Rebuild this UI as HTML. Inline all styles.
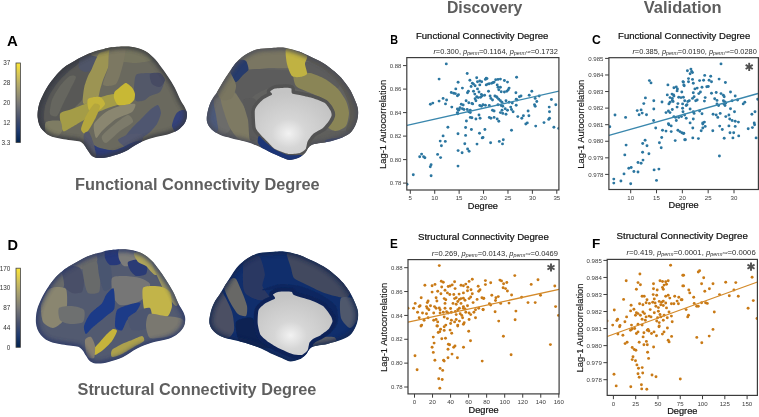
<!DOCTYPE html>
<html><head><meta charset="utf-8"><style>
html,body{margin:0;padding:0;background:#fff;overflow:hidden;}
svg{display:block;will-change:transform;}
</style></head><body><svg width="759" height="417" viewBox="0 0 759 417" font-family='"Liberation Sans", sans-serif'><defs><clipPath id="clipB"><rect x="406.8" y="57.6" width="152.1" height="132.4"/></clipPath><clipPath id="clipC"><rect x="608.9" y="57.7" width="149.5" height="131.8"/></clipPath><clipPath id="clipE"><rect x="408.0" y="259.6" width="151.1" height="134.3"/></clipPath><clipPath id="clipF"><rect x="607.2" y="259.4" width="150.2" height="136.0"/></clipPath><filter id="bl1" x="-10%" y="-10%" width="120%" height="120%"><feGaussianBlur stdDeviation="0.65"/></filter><filter id="bl0" x="-10%" y="-10%" width="120%" height="120%"><feGaussianBlur stdDeviation="0.45"/></filter><filter id="bl2" x="-10%" y="-10%" width="120%" height="120%"><feGaussianBlur stdDeviation="2.2"/></filter><radialGradient id="wg" cx="0.44" cy="0.69" r="0.62"><stop offset="0" stop-color="#f2f2f2"/><stop offset="0.35" stop-color="#d6d6d6"/><stop offset="1" stop-color="#c4c4c4"/></radialGradient><linearGradient id="cv" x1="0" y1="1" x2="0" y2="0"><stop offset="0" stop-color="#00224e"/><stop offset="0.15" stop-color="#1f3a6e"/><stop offset="0.3" stop-color="#46506c"/><stop offset="0.5" stop-color="#7c7b78"/><stop offset="0.7" stop-color="#aca46e"/><stop offset="0.85" stop-color="#d4c55a"/><stop offset="1" stop-color="#fde737"/></linearGradient><clipPath id="cal"><path d="M110.0,47.4 C114.2,46.9 123.2,46.1 128.7,46.5 C134.2,46.9 139.0,48.2 143.1,50.0 C147.2,51.8 150.3,54.6 153.2,57.3 C156.1,59.9 158.0,62.8 160.4,65.9 C162.8,69.0 165.2,72.4 167.6,76.0 C170.0,79.6 172.5,83.5 174.7,87.5 C176.8,91.5 178.8,96.7 180.5,100.0 C182.2,103.3 183.7,104.8 184.8,107.2 C185.9,109.6 187.0,111.8 187.0,114.4 C187.0,117.0 186.4,120.4 184.8,123.0 C183.2,125.6 180.5,128.3 177.6,130.2 C174.7,132.1 171.7,133.2 167.6,134.5 C163.5,135.8 158.0,136.2 153.2,137.7 C148.4,139.1 143.6,140.8 138.8,143.2 C134.0,145.5 129.1,149.6 124.4,151.8 C119.7,154.0 114.5,155.4 110.4,156.4 C106.3,157.4 102.6,158.0 99.6,158.0 C96.6,158.0 94.4,157.5 92.4,156.2 C90.4,154.9 88.8,151.8 87.5,150.0 C86.2,148.2 85.8,146.8 84.6,145.4 C83.3,144.0 81.9,142.4 80.0,141.6 C78.1,140.8 75.8,140.9 73.1,140.5 C70.4,140.1 66.8,139.7 63.6,139.2 C60.4,138.7 56.7,138.1 54.0,137.3 C51.3,136.5 49.2,135.6 47.3,134.4 C45.4,133.2 43.9,131.8 42.5,130.1 C41.1,128.4 39.9,126.5 39.1,124.4 C38.3,122.3 37.8,120.1 37.6,117.7 C37.4,115.3 37.6,112.3 37.9,110.0 C38.2,107.7 38.6,106.0 39.2,104.0 C39.8,102.0 40.4,100.5 41.5,98.1 C42.6,95.7 44.1,92.4 45.8,89.5 C47.5,86.6 49.4,83.7 51.6,80.8 C53.8,77.9 56.3,74.7 58.8,72.2 C61.3,69.7 63.9,67.5 66.5,65.6 C69.1,63.7 71.9,62.3 74.4,60.9 C76.9,59.5 79.2,58.3 81.6,57.1 C84.0,55.9 86.4,54.5 88.8,53.5 C91.2,52.5 93.6,51.7 96.0,51.0 C98.4,50.3 100.9,49.8 103.2,49.2 C105.5,48.6 105.8,47.9 110.0,47.4Z"/></clipPath><clipPath id="cam"><path d="M283.0,47.6 C287.0,48.1 291.7,49.2 296.0,50.6 C300.3,52.0 304.2,53.7 308.7,55.8 C313.2,57.9 318.8,60.4 323.1,63.0 C327.4,65.6 331.2,68.7 334.6,71.6 C338.0,74.5 340.6,77.1 343.2,80.2 C345.8,83.3 348.4,87.0 350.4,90.3 C352.3,93.6 353.6,96.8 354.9,100.0 C356.2,103.2 357.6,106.0 358.0,109.4 C358.4,112.8 358.2,116.7 357.2,120.3 C356.2,123.9 354.3,128.3 351.8,131.2 C349.3,134.0 346.6,135.6 342.4,137.4 C338.2,139.2 332.0,140.8 326.8,142.1 C321.6,143.4 314.8,143.4 311.2,145.2 C307.6,147.0 307.1,150.9 305.0,153.0 C302.9,155.1 301.3,156.5 298.7,157.7 C296.1,158.9 292.1,160.0 289.4,160.0 C286.7,160.0 285.6,158.9 282.7,157.7 C279.8,156.5 275.7,154.8 271.8,153.0 C267.9,151.2 263.5,148.6 259.3,146.8 C255.1,145.0 251.5,143.5 246.8,142.1 C242.1,140.7 235.6,139.4 231.2,138.2 C226.8,137.0 223.6,136.5 220.3,135.1 C217.1,133.7 213.9,131.8 211.7,129.6 C209.5,127.4 207.7,124.9 207.0,121.8 C206.3,118.7 207.0,114.5 207.8,110.9 C208.6,107.3 210.1,103.2 211.7,100.0 C213.3,96.8 215.3,94.8 217.2,91.7 C219.1,88.7 221.1,84.8 223.0,81.7 C224.9,78.6 226.8,75.9 228.7,73.0 C230.6,70.1 232.6,66.8 234.5,64.4 C236.4,62.0 238.0,60.5 240.2,58.7 C242.3,56.9 244.5,55.2 247.4,53.6 C250.3,52.0 253.4,50.2 257.5,49.3 C261.6,48.3 267.6,48.2 271.8,47.9 C276.1,47.6 279.0,47.1 283.0,47.6Z"/></clipPath><clipPath id="cdl"><path d="M108.3,250.4 C112.5,249.9 121.5,249.0 127.0,249.4 C132.5,249.9 137.3,251.2 141.4,253.0 C145.5,254.9 148.6,257.8 151.5,260.5 C154.4,263.2 156.3,266.1 158.7,269.3 C161.1,272.5 163.5,276.0 165.9,279.7 C168.3,283.3 170.8,287.3 173.0,291.4 C175.2,295.5 177.1,300.9 178.8,304.2 C180.5,307.6 182.0,309.1 183.1,311.6 C184.2,314.1 185.3,316.3 185.3,319.0 C185.3,321.7 184.7,325.1 183.1,327.8 C181.5,330.5 178.8,333.2 175.9,335.2 C173.0,337.1 170.0,338.3 165.9,339.6 C161.8,340.8 156.3,341.3 151.5,342.8 C146.7,344.3 141.9,346.1 137.1,348.5 C132.3,350.9 127.4,355.0 122.7,357.3 C118.0,359.5 112.8,360.9 108.7,362.0 C104.6,363.0 100.9,363.7 97.9,363.6 C94.9,363.6 92.7,363.1 90.7,361.8 C88.7,360.4 87.1,357.3 85.8,355.4 C84.5,353.6 84.1,352.2 82.9,350.7 C81.6,349.3 80.2,347.7 78.3,346.8 C76.4,346.0 74.1,346.1 71.4,345.7 C68.7,345.3 65.1,344.9 61.9,344.4 C58.7,343.8 55.0,343.2 52.3,342.4 C49.6,341.6 47.5,340.7 45.6,339.5 C43.7,338.2 42.2,336.8 40.8,335.1 C39.4,333.3 38.2,331.3 37.4,329.2 C36.6,327.1 36.1,324.8 35.9,322.4 C35.7,319.9 35.9,316.8 36.2,314.5 C36.5,312.1 36.9,310.4 37.5,308.3 C38.1,306.3 38.7,304.8 39.8,302.3 C40.9,299.8 42.4,296.4 44.1,293.5 C45.8,290.5 47.7,287.5 49.9,284.6 C52.1,281.6 54.6,278.4 57.1,275.8 C59.6,273.2 62.2,270.9 64.8,269.0 C67.4,267.1 70.2,265.6 72.7,264.2 C75.2,262.7 77.5,261.6 79.9,260.3 C82.3,259.0 84.7,257.7 87.1,256.6 C89.5,255.6 91.9,254.8 94.3,254.1 C96.7,253.3 99.2,252.8 101.5,252.2 C103.8,251.6 104.0,250.8 108.3,250.4Z"/></clipPath><clipPath id="cdm"><path d="M284.3,251.4 C288.2,251.8 292.8,253.0 297.1,254.3 C301.3,255.7 305.1,257.4 309.5,259.4 C314.0,261.4 319.5,263.9 323.7,266.5 C327.9,269.0 331.7,272.1 335.0,274.9 C338.3,277.7 340.9,280.2 343.5,283.3 C346.0,286.4 348.6,290.0 350.5,293.2 C352.4,296.4 353.7,299.6 355.0,302.7 C356.2,305.8 357.6,308.6 358.0,311.9 C358.4,315.2 358.2,319.0 357.2,322.6 C356.2,326.1 354.3,330.4 351.9,333.2 C349.5,336.0 346.8,337.5 342.7,339.3 C338.6,341.1 332.4,342.6 327.3,343.9 C322.2,345.2 315.6,345.2 312.0,346.9 C308.4,348.7 307.9,352.5 305.9,354.6 C303.9,356.6 302.3,358.0 299.7,359.2 C297.2,360.3 293.2,361.4 290.6,361.4 C287.9,361.4 286.9,360.3 284.0,359.2 C281.1,358.0 277.1,356.3 273.3,354.6 C269.4,352.8 265.1,350.3 261.0,348.5 C256.9,346.7 253.3,345.3 248.7,343.9 C244.1,342.5 237.7,341.2 233.4,340.1 C229.0,338.9 225.8,338.5 222.6,337.0 C219.4,335.6 216.4,333.8 214.2,331.7 C212.0,329.5 210.2,327.1 209.6,324.0 C208.9,321.0 209.6,316.9 210.4,313.4 C211.1,309.8 212.6,305.8 214.2,302.7 C215.7,299.6 217.7,297.5 219.6,294.6 C221.4,291.6 223.4,287.8 225.3,284.8 C227.2,281.7 229.0,279.1 230.9,276.3 C232.8,273.4 234.7,270.2 236.6,267.8 C238.5,265.5 240.1,264.0 242.2,262.3 C244.3,260.5 246.4,258.8 249.3,257.3 C252.1,255.7 255.2,254.0 259.2,253.0 C263.2,252.1 269.1,252.0 273.3,251.7 C277.4,251.4 280.3,250.9 284.3,251.4Z"/></clipPath></defs><rect x="16.0" y="63.0" width="4.4" height="79.5" fill="url(#cv)" stroke="#444" stroke-width="0.8"/><text x="10.3" y="65.3" font-size="6.4" fill="#333" text-anchor="end">37</text><text x="10.3" y="85.2" font-size="6.4" fill="#333" text-anchor="end">28</text><text x="10.3" y="105.0" font-size="6.4" fill="#333" text-anchor="end">20</text><text x="10.3" y="124.9" font-size="6.4" fill="#333" text-anchor="end">12</text><text x="10.3" y="144.8" font-size="6.4" fill="#333" text-anchor="end">3.3</text><rect x="16.0" y="268.2" width="4.4" height="79.1" fill="url(#cv)" stroke="#444" stroke-width="0.8"/><text x="10.3" y="270.5" font-size="6.4" fill="#333" text-anchor="end">170</text><text x="10.3" y="290.3" font-size="6.4" fill="#333" text-anchor="end">130</text><text x="10.3" y="310.1" font-size="6.4" fill="#333" text-anchor="end">87</text><text x="10.3" y="329.8" font-size="6.4" fill="#333" text-anchor="end">44</text><text x="10.3" y="349.6" font-size="6.4" fill="#333" text-anchor="end">0</text><g clip-path="url(#cal)"><path d="M110.0,47.4 C114.2,46.9 123.2,46.1 128.7,46.5 C134.2,46.9 139.0,48.2 143.1,50.0 C147.2,51.8 150.3,54.6 153.2,57.3 C156.1,59.9 158.0,62.8 160.4,65.9 C162.8,69.0 165.2,72.4 167.6,76.0 C170.0,79.6 172.5,83.5 174.7,87.5 C176.8,91.5 178.8,96.7 180.5,100.0 C182.2,103.3 183.7,104.8 184.8,107.2 C185.9,109.6 187.0,111.8 187.0,114.4 C187.0,117.0 186.4,120.4 184.8,123.0 C183.2,125.6 180.5,128.3 177.6,130.2 C174.7,132.1 171.7,133.2 167.6,134.5 C163.5,135.8 158.0,136.2 153.2,137.7 C148.4,139.1 143.6,140.8 138.8,143.2 C134.0,145.5 129.1,149.6 124.4,151.8 C119.7,154.0 114.5,155.4 110.4,156.4 C106.3,157.4 102.6,158.0 99.6,158.0 C96.6,158.0 94.4,157.5 92.4,156.2 C90.4,154.9 88.8,151.8 87.5,150.0 C86.2,148.2 85.8,146.8 84.6,145.4 C83.3,144.0 81.9,142.4 80.0,141.6 C78.1,140.8 75.8,140.9 73.1,140.5 C70.4,140.1 66.8,139.7 63.6,139.2 C60.4,138.7 56.7,138.1 54.0,137.3 C51.3,136.5 49.2,135.6 47.3,134.4 C45.4,133.2 43.9,131.8 42.5,130.1 C41.1,128.4 39.9,126.5 39.1,124.4 C38.3,122.3 37.8,120.1 37.6,117.7 C37.4,115.3 37.6,112.3 37.9,110.0 C38.2,107.7 38.6,106.0 39.2,104.0 C39.8,102.0 40.4,100.5 41.5,98.1 C42.6,95.7 44.1,92.4 45.8,89.5 C47.5,86.6 49.4,83.7 51.6,80.8 C53.8,77.9 56.3,74.7 58.8,72.2 C61.3,69.7 63.9,67.5 66.5,65.6 C69.1,63.7 71.9,62.3 74.4,60.9 C76.9,59.5 79.2,58.3 81.6,57.1 C84.0,55.9 86.4,54.5 88.8,53.5 C91.2,52.5 93.6,51.7 96.0,51.0 C98.4,50.3 100.9,49.8 103.2,49.2 C105.5,48.6 105.8,47.9 110.0,47.4Z" fill="#6a695e"/><g filter="url(#bl1)"><path d="M40.0,95.0 C41.5,90.7 47.4,81.2 50.0,78.0 C52.6,74.8 58.7,70.3 62.0,68.0 C65.3,65.7 74.5,59.8 78.0,58.0 C81.5,56.2 89.9,52.8 92.0,53.0 C94.1,53.2 96.2,57.4 96.0,60.0 C95.8,62.6 91.2,71.5 90.0,75.0 C88.8,78.5 86.9,87.1 86.0,90.0 C85.1,92.9 83.6,97.7 82.0,100.0 C80.4,102.3 74.3,107.9 72.0,110.0 C69.7,112.1 63.9,115.2 62.0,118.0 C60.1,120.8 58.1,132.6 56.0,134.0 C53.9,135.4 46.2,132.2 44.0,130.0 C41.8,127.8 37.5,119.1 37.0,115.0 C36.5,110.9 38.5,99.3 40.0,95.0Z" fill="#585956"/><path d="M37.0,112.0 C36.8,108.7 37.2,102.8 38.0,100.0 C38.8,97.2 42.4,90.6 44.0,88.0 C45.6,85.4 49.9,80.3 52.0,78.0 C54.1,75.7 59.7,70.0 62.0,68.0 C64.3,66.0 69.9,62.2 72.0,61.0 C74.1,59.8 79.3,57.6 80.0,58.0 C80.7,58.4 79.4,62.4 78.0,64.0 C76.6,65.6 70.3,69.9 68.0,72.0 C65.7,74.1 60.1,79.4 58.0,82.0 C55.9,84.6 51.5,91.2 50.0,94.0 C48.5,96.8 45.7,103.0 45.0,106.0 C44.3,109.0 43.6,117.0 44.0,120.0 C44.4,123.0 48.5,131.1 48.0,132.0 C47.5,132.9 41.3,130.3 40.0,128.0 C38.7,125.7 37.2,115.3 37.0,112.0Z" fill="#46484f"/><path d="M52.0,100.0 C53.2,96.7 57.9,88.8 60.0,86.0 C62.1,83.2 68.1,77.0 70.0,76.0 C71.9,75.0 76.0,75.4 76.0,77.0 C76.0,78.6 71.5,86.8 70.0,90.0 C68.5,93.2 64.5,101.0 63.0,104.0 C61.5,107.0 58.5,114.8 57.0,116.0 C55.5,117.2 50.6,115.9 50.0,114.0 C49.4,112.1 50.8,103.3 52.0,100.0Z" fill="#66665e"/><path d="M92.0,52.0 C93.8,50.1 105.6,47.7 110.0,47.0 C114.4,46.3 125.6,45.4 130.0,46.0 C134.4,46.6 145.4,50.4 148.0,52.0 C150.6,53.6 153.5,58.7 152.0,60.0 C150.5,61.3 139.3,62.9 135.0,63.0 C130.7,63.1 119.7,61.0 115.0,61.0 C110.3,61.0 97.7,64.0 95.0,63.0 C92.3,62.0 90.2,53.9 92.0,52.0Z" fill="#76745f"/><path d="M80.0,58.0 C81.3,56.5 87.9,55.6 90.0,55.5 C92.1,55.4 97.2,56.5 98.0,57.5 C98.8,58.5 97.6,62.5 97.0,64.0 C96.4,65.5 94.4,69.1 93.0,70.0 C91.6,70.9 86.6,72.2 85.0,72.0 C83.4,71.8 79.6,69.6 79.0,68.0 C78.4,66.4 78.7,59.5 80.0,58.0Z" fill="#4f5468"/><path d="M98.4,54.3 C99.8,52.3 102.5,52.0 104.0,51.5 C105.5,51.0 110.1,49.2 111.0,50.0 C111.9,50.8 112.3,55.9 112.0,58.0 C111.7,60.1 109.0,65.4 108.0,68.0 C107.0,70.6 103.9,77.4 103.0,80.0 C102.1,82.6 100.6,87.9 100.0,90.0 C99.4,92.1 98.9,96.6 98.0,98.0 C97.1,99.4 93.6,101.3 92.0,102.0 C90.4,102.7 85.1,104.3 84.0,104.0 C82.9,103.7 82.8,101.5 82.8,99.5 C82.8,97.5 83.7,89.7 84.3,87.0 C84.9,84.3 87.1,78.2 88.0,76.0 C88.9,73.8 90.8,70.9 92.0,68.4 C93.2,65.9 97.0,56.3 98.4,54.3Z" fill="#9c9452"/><path d="M110.0,49.0 C112.0,46.5 123.4,45.7 125.0,47.0 C126.6,48.3 124.6,56.7 124.0,60.0 C123.4,63.3 120.9,72.2 120.0,75.0 C119.1,77.8 117.4,82.7 116.0,84.0 C114.6,85.3 109.5,86.0 108.0,86.0 C106.5,86.0 103.0,86.1 103.0,84.0 C103.0,81.9 107.2,72.1 108.0,68.0 C108.8,63.9 108.0,51.5 110.0,49.0Z" fill="#7c7862"/><path d="M136.0,75.0 C137.6,73.0 145.4,73.1 148.0,73.0 C150.6,72.9 156.1,73.0 158.0,74.0 C159.9,75.0 163.8,79.9 164.0,82.0 C164.2,84.1 161.6,90.4 160.0,92.0 C158.4,93.6 151.8,95.1 150.0,96.0 C148.2,96.9 146.6,99.4 145.0,100.0 C143.4,100.6 137.3,102.2 136.0,101.0 C134.7,99.8 134.0,93.0 134.0,90.0 C134.0,87.0 134.4,77.0 136.0,75.0Z" fill="#535869"/><path d="M150.0,74.0 C150.9,72.7 158.2,72.3 160.0,73.0 C161.8,73.7 165.0,78.4 165.0,80.0 C165.0,81.6 161.5,86.5 160.0,87.0 C158.5,87.5 153.2,85.5 152.0,84.0 C150.8,82.5 149.1,75.3 150.0,74.0Z" fill="#464c64"/><path d="M60.0,114.0 C61.0,111.4 69.1,110.2 72.0,109.0 C74.9,107.8 82.2,105.2 85.0,104.0 C87.8,102.8 93.3,100.0 96.0,99.0 C98.7,98.0 105.4,95.6 108.0,95.0 C110.6,94.4 116.5,93.1 118.0,94.0 C119.5,94.9 122.2,101.4 121.0,103.0 C119.8,104.6 110.9,106.8 108.0,108.0 C105.1,109.2 98.8,111.6 96.0,113.0 C93.2,114.4 86.8,118.4 84.0,120.0 C81.2,121.6 74.5,125.7 72.0,127.0 C69.5,128.3 64.4,132.5 63.0,131.0 C61.6,129.5 59.0,116.6 60.0,114.0Z" fill="#a49c46"/><path d="M125.6,83.0 C127.0,82.8 130.1,85.8 131.0,86.5 C131.9,87.2 132.5,88.1 133.0,89.0 C133.5,89.9 134.9,92.7 135.0,94.0 C135.1,95.3 134.8,98.7 134.0,100.0 C133.2,101.3 129.9,104.4 128.0,105.0 C126.1,105.6 119.6,105.8 118.0,105.0 C116.4,104.2 114.4,99.5 114.0,98.0 C113.6,96.5 113.9,93.2 114.5,92.0 C115.1,90.8 117.7,89.0 119.0,88.0 C120.3,87.0 124.2,83.2 125.6,83.0Z" fill="#c8b834"/><path d="M88.0,99.0 C89.3,97.5 98.0,96.4 100.0,97.0 C102.0,97.6 105.2,102.4 105.0,104.0 C104.8,105.6 99.9,110.3 98.0,111.0 C96.1,111.7 90.2,111.4 89.0,110.0 C87.8,108.6 86.7,100.5 88.0,99.0Z" fill="#c4b43a"/><path d="M94.0,104.0 C95.6,102.8 99.8,104.5 100.0,106.0 C100.2,107.5 97.2,114.4 96.0,117.0 C94.8,119.6 91.3,126.0 90.0,128.0 C88.7,130.0 86.0,133.9 85.0,134.0 C84.0,134.1 80.9,131.1 81.0,129.0 C81.1,126.9 84.5,118.9 86.0,116.0 C87.5,113.1 92.4,105.2 94.0,104.0Z" fill="#b4a63c"/><path d="M46.0,122.0 C47.6,120.6 58.1,120.0 60.0,121.0 C61.9,122.0 62.5,129.1 62.0,131.0 C61.5,132.9 57.9,136.8 56.0,137.0 C54.1,137.2 47.2,134.8 46.0,133.0 C44.8,131.2 44.4,123.4 46.0,122.0Z" fill="#7e7c64"/><path d="M94.0,124.0 C95.2,121.0 103.0,114.1 106.0,112.0 C109.0,109.9 116.6,106.9 120.0,106.0 C123.4,105.1 133.6,103.3 135.0,104.0 C136.4,104.7 134.2,110.2 132.0,112.0 C129.8,113.8 119.5,116.8 116.0,119.0 C112.5,121.2 104.3,128.8 102.0,131.0 C99.7,133.2 96.9,138.8 96.0,138.0 C95.1,137.2 92.8,127.0 94.0,124.0Z" fill="#8a8670"/><path d="M102.0,136.0 C103.2,133.7 113.0,125.5 116.0,123.0 C119.0,120.5 126.0,115.1 128.0,115.0 C130.0,114.9 133.9,120.1 133.0,122.0 C132.1,123.9 123.2,128.6 120.0,131.0 C116.8,133.4 108.1,142.4 106.0,143.0 C103.9,143.6 100.8,138.3 102.0,136.0Z" fill="#7c7a6a"/><path d="M124.0,139.0 C124.0,137.4 129.0,131.3 131.0,129.0 C133.0,126.7 138.7,121.3 141.0,119.0 C143.3,116.7 149.0,110.6 151.0,109.0 C153.0,107.4 156.8,104.5 158.0,105.0 C159.2,105.5 161.1,110.8 161.0,113.0 C160.9,115.2 158.4,121.7 157.0,124.0 C155.6,126.3 151.0,131.2 149.0,133.0 C147.0,134.8 142.1,137.8 140.0,139.0 C137.9,140.2 132.9,143.0 131.0,143.0 C129.1,143.0 124.0,140.6 124.0,139.0Z" fill="#505770"/><path d="M118.0,140.0 C118.2,138.4 127.2,134.7 130.0,134.0 C132.8,133.3 140.6,133.2 142.0,134.0 C143.4,134.8 143.6,139.4 142.0,141.0 C140.4,142.6 130.8,148.1 128.0,148.0 C125.2,147.9 117.8,141.6 118.0,140.0Z" fill="#525870"/><path d="M89.0,143.0 C90.6,142.8 97.0,147.2 100.0,148.0 C103.0,148.8 111.0,150.7 115.0,150.0 C119.0,149.3 130.8,143.1 134.0,142.0 C137.2,140.9 142.5,139.8 142.0,141.0 C141.5,142.2 133.7,150.0 130.0,152.0 C126.3,154.0 114.1,157.1 110.0,158.0 C105.9,158.9 97.8,160.9 95.0,160.0 C92.2,159.1 86.7,152.0 86.0,150.0 C85.3,148.0 87.4,143.2 89.0,143.0Z" fill="#2e3e78"/><path d="M176.0,114.0 C177.2,112.1 180.6,110.2 182.0,110.0 C183.4,109.8 187.3,109.9 188.0,112.0 C188.7,114.1 189.2,125.4 188.0,128.0 C186.8,130.6 179.9,134.2 178.0,134.0 C176.1,133.8 172.2,128.3 172.0,126.0 C171.8,123.7 174.8,115.9 176.0,114.0Z" fill="#34427a"/><path d="M84.0,134.0 C84.6,132.4 87.8,130.7 89.0,132.0 C90.2,133.3 93.2,142.0 94.0,145.0 C94.8,148.0 96.7,156.5 96.0,158.0 C95.3,159.5 89.4,159.4 88.0,158.0 C86.6,156.6 84.5,148.8 84.0,146.0 C83.5,143.2 83.4,135.6 84.0,134.0Z" fill="#54586a"/></g><path d="M110.0,47.4 C114.2,46.9 123.2,46.1 128.7,46.5 C134.2,46.9 139.0,48.2 143.1,50.0 C147.2,51.8 150.3,54.6 153.2,57.3 C156.1,59.9 158.0,62.8 160.4,65.9 C162.8,69.0 165.2,72.4 167.6,76.0 C170.0,79.6 172.5,83.5 174.7,87.5 C176.8,91.5 178.8,96.7 180.5,100.0 C182.2,103.3 183.7,104.8 184.8,107.2 C185.9,109.6 187.0,111.8 187.0,114.4 C187.0,117.0 186.4,120.4 184.8,123.0 C183.2,125.6 180.5,128.3 177.6,130.2 C174.7,132.1 171.7,133.2 167.6,134.5 C163.5,135.8 158.0,136.2 153.2,137.7 C148.4,139.1 143.6,140.8 138.8,143.2 C134.0,145.5 129.1,149.6 124.4,151.8 C119.7,154.0 114.5,155.4 110.4,156.4 C106.3,157.4 102.6,158.0 99.6,158.0 C96.6,158.0 94.4,157.5 92.4,156.2 C90.4,154.9 88.8,151.8 87.5,150.0 C86.2,148.2 85.8,146.8 84.6,145.4 C83.3,144.0 81.9,142.4 80.0,141.6 C78.1,140.8 75.8,140.9 73.1,140.5 C70.4,140.1 66.8,139.7 63.6,139.2 C60.4,138.7 56.7,138.1 54.0,137.3 C51.3,136.5 49.2,135.6 47.3,134.4 C45.4,133.2 43.9,131.8 42.5,130.1 C41.1,128.4 39.9,126.5 39.1,124.4 C38.3,122.3 37.8,120.1 37.6,117.7 C37.4,115.3 37.6,112.3 37.9,110.0 C38.2,107.7 38.6,106.0 39.2,104.0 C39.8,102.0 40.4,100.5 41.5,98.1 C42.6,95.7 44.1,92.4 45.8,89.5 C47.5,86.6 49.4,83.7 51.6,80.8 C53.8,77.9 56.3,74.7 58.8,72.2 C61.3,69.7 63.9,67.5 66.5,65.6 C69.1,63.7 71.9,62.3 74.4,60.9 C76.9,59.5 79.2,58.3 81.6,57.1 C84.0,55.9 86.4,54.5 88.8,53.5 C91.2,52.5 93.6,51.7 96.0,51.0 C98.4,50.3 100.9,49.8 103.2,49.2 C105.5,48.6 105.8,47.9 110.0,47.4Z" fill="none" stroke="#35373f" stroke-width="5" filter="url(#bl2)" opacity="0.9"/></g><g clip-path="url(#cam)"><path d="M283.0,47.6 C287.0,48.1 291.7,49.2 296.0,50.6 C300.3,52.0 304.2,53.7 308.7,55.8 C313.2,57.9 318.8,60.4 323.1,63.0 C327.4,65.6 331.2,68.7 334.6,71.6 C338.0,74.5 340.6,77.1 343.2,80.2 C345.8,83.3 348.4,87.0 350.4,90.3 C352.3,93.6 353.6,96.8 354.9,100.0 C356.2,103.2 357.6,106.0 358.0,109.4 C358.4,112.8 358.2,116.7 357.2,120.3 C356.2,123.9 354.3,128.3 351.8,131.2 C349.3,134.0 346.6,135.6 342.4,137.4 C338.2,139.2 332.0,140.8 326.8,142.1 C321.6,143.4 314.8,143.4 311.2,145.2 C307.6,147.0 307.1,150.9 305.0,153.0 C302.9,155.1 301.3,156.5 298.7,157.7 C296.1,158.9 292.1,160.0 289.4,160.0 C286.7,160.0 285.6,158.9 282.7,157.7 C279.8,156.5 275.7,154.8 271.8,153.0 C267.9,151.2 263.5,148.6 259.3,146.8 C255.1,145.0 251.5,143.5 246.8,142.1 C242.1,140.7 235.6,139.4 231.2,138.2 C226.8,137.0 223.6,136.5 220.3,135.1 C217.1,133.7 213.9,131.8 211.7,129.6 C209.5,127.4 207.7,124.9 207.0,121.8 C206.3,118.7 207.0,114.5 207.8,110.9 C208.6,107.3 210.1,103.2 211.7,100.0 C213.3,96.8 215.3,94.8 217.2,91.7 C219.1,88.7 221.1,84.8 223.0,81.7 C224.9,78.6 226.8,75.9 228.7,73.0 C230.6,70.1 232.6,66.8 234.5,64.4 C236.4,62.0 238.0,60.5 240.2,58.7 C242.3,56.9 244.5,55.2 247.4,53.6 C250.3,52.0 253.4,50.2 257.5,49.3 C261.6,48.3 267.6,48.2 271.8,47.9 C276.1,47.6 279.0,47.1 283.0,47.6Z" fill="#626260"/><g filter="url(#bl1)"><path d="M236.0,56.0 C237.2,53.8 246.0,50.0 250.0,49.0 C254.0,48.0 265.8,47.2 270.0,47.0 C274.2,46.8 283.7,45.2 286.0,47.0 C288.3,48.8 289.8,59.5 290.0,62.0 C290.2,64.5 290.3,67.3 288.0,68.0 C285.7,68.7 274.4,67.8 270.0,68.0 C265.6,68.2 253.5,70.0 250.0,70.0 C246.5,70.0 241.6,69.6 240.0,68.0 C238.4,66.4 234.8,58.2 236.0,56.0Z" fill="#7a7662"/><path d="M236.0,72.0 C238.9,69.5 253.7,69.2 260.0,69.0 C266.3,68.8 284.6,70.8 290.0,70.0 C295.4,69.2 301.3,62.5 306.0,62.0 C310.7,61.5 326.0,63.3 330.0,66.0 C334.0,68.7 340.6,81.6 340.0,85.0 C339.4,88.4 329.7,94.4 325.0,95.0 C320.3,95.6 305.8,91.0 300.0,90.0 C294.2,89.0 280.2,85.4 275.0,86.0 C269.8,86.6 258.5,92.8 255.0,95.0 C251.5,97.2 247.3,105.6 245.0,105.0 C242.7,104.4 236.1,93.8 235.0,90.0 C233.9,86.2 233.1,74.5 236.0,72.0Z" fill="#5c5c5c"/><path d="M300.0,50.0 C302.0,49.8 311.5,54.2 315.0,56.0 C318.5,57.8 326.9,62.7 330.0,65.0 C333.1,67.3 339.6,73.2 342.0,76.0 C344.4,78.8 349.2,85.8 351.0,89.0 C352.8,92.2 356.1,100.0 357.0,103.0 C357.9,106.0 359.1,112.2 359.0,115.0 C358.9,117.8 357.1,124.8 356.0,127.0 C354.9,129.2 351.2,133.7 350.0,134.0 C348.8,134.3 346.0,131.9 346.0,130.0 C346.0,128.1 349.6,121.0 350.0,118.0 C350.4,115.0 349.8,107.3 349.0,104.0 C348.2,100.7 344.8,93.0 343.0,90.0 C341.2,87.0 336.4,80.6 334.0,78.0 C331.6,75.4 325.0,70.0 322.0,68.0 C319.0,66.0 310.8,62.2 308.0,61.0 C305.2,59.8 298.9,59.3 298.0,58.0 C297.1,56.7 298.0,50.2 300.0,50.0Z" fill="#5c5a52"/><path d="M294.0,74.0 C295.6,72.5 306.4,72.4 310.0,73.0 C313.6,73.6 321.7,77.1 325.0,79.0 C328.3,80.9 335.6,86.4 338.0,89.0 C340.4,91.6 344.7,98.2 346.0,101.0 C347.3,103.8 349.0,110.1 349.0,113.0 C349.0,115.9 347.5,123.9 346.0,126.0 C344.5,128.1 338.1,130.9 336.0,131.0 C333.9,131.1 328.2,128.8 328.0,127.0 C327.8,125.2 333.5,118.5 334.0,116.0 C334.5,113.5 333.4,108.1 332.0,106.0 C330.6,103.9 324.8,99.6 322.0,98.0 C319.2,96.4 311.0,93.4 308.0,92.0 C305.0,90.6 297.6,88.1 296.0,86.0 C294.4,83.9 292.4,75.5 294.0,74.0Z" fill="#8a8556"/><path d="M240.0,60.0 C241.5,59.4 245.0,59.9 246.0,61.0 C247.0,62.1 248.8,67.9 248.5,69.5 C248.2,71.1 244.5,73.5 243.0,75.0 C241.5,76.5 237.5,82.1 236.0,82.0 C234.5,81.9 230.8,75.9 230.5,74.0 C230.2,72.1 231.9,67.6 233.0,66.0 C234.1,64.4 238.5,60.6 240.0,60.0Z" fill="#253a6c"/><path d="M286.0,49.0 C287.1,47.5 293.6,50.2 296.0,51.0 C298.4,51.8 305.9,54.5 307.0,56.0 C308.1,57.5 305.0,61.9 305.0,64.0 C305.0,66.1 307.6,72.5 307.0,74.0 C306.4,75.5 301.8,76.8 300.0,77.0 C298.2,77.2 293.5,77.5 292.0,76.0 C290.5,74.5 287.7,67.2 287.0,64.0 C286.3,60.9 284.9,50.5 286.0,49.0Z" fill="#c0b242"/><path d="M311.0,128.0 C313.3,126.2 325.4,130.5 330.0,131.0 C334.6,131.5 348.2,130.7 350.0,132.0 C351.8,133.3 347.9,140.5 345.0,142.0 C342.1,143.5 329.1,144.5 325.0,145.0 C320.9,145.5 311.6,148.0 310.0,146.0 C308.4,144.0 308.7,129.8 311.0,128.0Z" fill="#5e5e5c"/><path d="M206.0,104.0 C206.9,101.7 212.4,99.3 214.0,100.0 C215.6,100.7 219.5,106.5 220.0,110.0 C220.5,113.5 218.9,127.2 218.0,130.0 C217.1,132.8 213.4,135.2 212.0,134.0 C210.6,132.8 206.7,123.5 206.0,120.0 C205.3,116.5 205.1,106.3 206.0,104.0Z" fill="#4e5a7a"/><path d="M214.0,100.0 C215.2,97.8 224.1,94.8 226.0,96.0 C227.9,97.2 229.5,106.0 230.0,110.0 C230.5,114.0 231.2,127.2 230.0,130.0 C228.8,132.8 221.6,135.8 220.0,134.0 C218.4,132.2 216.7,119.0 216.0,115.0 C215.3,111.0 212.8,102.2 214.0,100.0Z" fill="#6c6c6a"/><path d="M221.0,97.0 C222.2,94.7 231.1,90.5 234.0,92.0 C236.9,93.5 243.4,105.6 246.0,110.0 C248.6,114.4 254.8,126.5 256.0,130.0 C257.2,133.5 257.9,138.8 256.0,140.0 C254.1,141.2 243.0,141.4 240.0,140.0 C237.0,138.6 231.9,131.3 230.0,128.0 C228.1,124.7 225.1,115.6 224.0,112.0 C222.9,108.4 219.8,99.3 221.0,97.0Z" fill="#7e7a64"/><path d="M243.0,100.0 C243.9,97.7 254.5,97.1 256.0,100.0 C257.5,102.9 255.8,120.5 256.0,125.0 C256.2,129.6 258.7,137.2 258.0,139.0 C257.3,140.8 251.2,142.2 250.0,140.0 C248.8,137.8 248.8,124.7 248.0,120.0 C247.2,115.3 242.1,102.3 243.0,100.0Z" fill="#5a5a5a"/><path d="M217.0,74.0 C218.4,71.7 225.8,68.7 228.0,70.0 C230.2,71.3 235.5,81.7 236.0,85.0 C236.5,88.3 233.6,96.2 232.0,98.0 C230.4,99.8 223.9,100.9 222.0,100.0 C220.1,99.1 216.6,93.0 216.0,90.0 C215.4,87.0 215.6,76.3 217.0,74.0Z" fill="#7a7660"/><path d="M326.0,140.0 C328.1,138.9 343.7,136.7 346.0,137.0 C348.3,137.3 348.1,141.9 346.0,143.0 C343.9,144.1 330.3,146.3 328.0,146.0 C325.7,145.7 323.9,141.1 326.0,140.0Z" fill="#34447a"/></g><path d="M283.0,47.6 C287.0,48.1 291.7,49.2 296.0,50.6 C300.3,52.0 304.2,53.7 308.7,55.8 C313.2,57.9 318.8,60.4 323.1,63.0 C327.4,65.6 331.2,68.7 334.6,71.6 C338.0,74.5 340.6,77.1 343.2,80.2 C345.8,83.3 348.4,87.0 350.4,90.3 C352.3,93.6 353.6,96.8 354.9,100.0 C356.2,103.2 357.6,106.0 358.0,109.4 C358.4,112.8 358.2,116.7 357.2,120.3 C356.2,123.9 354.3,128.3 351.8,131.2 C349.3,134.0 346.6,135.6 342.4,137.4 C338.2,139.2 332.0,140.8 326.8,142.1 C321.6,143.4 314.8,143.4 311.2,145.2 C307.6,147.0 307.1,150.9 305.0,153.0 C302.9,155.1 301.3,156.5 298.7,157.7 C296.1,158.9 292.1,160.0 289.4,160.0 C286.7,160.0 285.6,158.9 282.7,157.7 C279.8,156.5 275.7,154.8 271.8,153.0 C267.9,151.2 263.5,148.6 259.3,146.8 C255.1,145.0 251.5,143.5 246.8,142.1 C242.1,140.7 235.6,139.4 231.2,138.2 C226.8,137.0 223.6,136.5 220.3,135.1 C217.1,133.7 213.9,131.8 211.7,129.6 C209.5,127.4 207.7,124.9 207.0,121.8 C206.3,118.7 207.0,114.5 207.8,110.9 C208.6,107.3 210.1,103.2 211.7,100.0 C213.3,96.8 215.3,94.8 217.2,91.7 C219.1,88.7 221.1,84.8 223.0,81.7 C224.9,78.6 226.8,75.9 228.7,73.0 C230.6,70.1 232.6,66.8 234.5,64.4 C236.4,62.0 238.0,60.5 240.2,58.7 C242.3,56.9 244.5,55.2 247.4,53.6 C250.3,52.0 253.4,50.2 257.5,49.3 C261.6,48.3 267.6,48.2 271.8,47.9 C276.1,47.6 279.0,47.1 283.0,47.6Z" fill="none" stroke="#484c58" stroke-width="5" filter="url(#bl2)" opacity="0.9"/><path d="M257.7,105.0 C258.6,103.8 262.0,100.3 263.4,99.2 C264.8,98.1 271.3,95.2 272.0,94.4 C272.7,93.6 269.9,92.1 270.2,91.5 C270.5,90.9 273.4,89.0 275.0,88.6 C276.6,88.2 284.9,87.7 286.5,87.7 C288.1,87.7 290.7,88.0 291.3,88.6 C291.9,89.2 291.1,92.7 292.2,93.4 C293.2,94.1 299.7,94.9 301.8,95.4 C303.9,95.9 311.0,97.4 313.3,98.2 C315.6,99.0 323.2,101.8 324.9,103.0 C326.6,104.2 329.9,109.5 330.6,110.7 C331.3,112.0 331.8,114.4 331.6,115.5 C331.4,116.6 329.6,120.0 328.7,121.3 C327.8,122.5 324.5,126.8 323.0,128.0 C321.5,129.2 314.8,132.4 313.3,133.7 C311.8,135.0 308.4,139.9 307.6,141.4 C306.8,142.9 306.5,147.8 305.7,149.0 C304.9,150.2 301.7,152.5 300.0,153.0 C298.3,153.5 290.9,154.3 288.4,153.9 C285.9,153.5 277.1,150.2 275.0,149.0 C272.9,147.8 268.7,142.7 267.3,141.4 C265.9,140.1 262.6,137.0 261.5,135.7 C260.4,134.4 256.5,130.5 255.8,128.0 C255.1,125.5 254.6,113.0 254.8,110.7 C255.0,108.4 256.8,106.2 257.7,105.0Z" fill="none" stroke="#535353" stroke-width="7.0" stroke-linejoin="round" filter="url(#bl0)"/><g filter="url(#bl0)"><path d="M259.0,136.0 C259.9,135.9 264.1,140.9 266.0,142.5 C267.9,144.1 272.4,148.0 275.0,149.5 C277.6,151.0 285.0,154.4 288.0,155.0 C291.0,155.6 299.1,154.7 301.0,155.0 C302.9,155.3 305.3,157.4 304.0,158.0 C302.7,158.6 292.9,160.1 290.0,160.0 C287.1,159.9 281.8,158.4 279.0,157.5 C276.2,156.6 268.4,153.7 266.0,152.0 C263.6,150.3 258.8,144.9 258.0,143.0 C257.2,141.1 258.1,136.1 259.0,136.0Z" fill="#1e3676"/></g><path d="M257.7,105.0 C258.6,103.8 262.0,100.3 263.4,99.2 C264.8,98.1 271.3,95.2 272.0,94.4 C272.7,93.6 269.9,92.1 270.2,91.5 C270.5,90.9 273.4,89.0 275.0,88.6 C276.6,88.2 284.9,87.7 286.5,87.7 C288.1,87.7 290.7,88.0 291.3,88.6 C291.9,89.2 291.1,92.7 292.2,93.4 C293.2,94.1 299.7,94.9 301.8,95.4 C303.9,95.9 311.0,97.4 313.3,98.2 C315.6,99.0 323.2,101.8 324.9,103.0 C326.6,104.2 329.9,109.5 330.6,110.7 C331.3,112.0 331.8,114.4 331.6,115.5 C331.4,116.6 329.6,120.0 328.7,121.3 C327.8,122.5 324.5,126.8 323.0,128.0 C321.5,129.2 314.8,132.4 313.3,133.7 C311.8,135.0 308.4,139.9 307.6,141.4 C306.8,142.9 306.5,147.8 305.7,149.0 C304.9,150.2 301.7,152.5 300.0,153.0 C298.3,153.5 290.9,154.3 288.4,153.9 C285.9,153.5 277.1,150.2 275.0,149.0 C272.9,147.8 268.7,142.7 267.3,141.4 C265.9,140.1 262.6,137.0 261.5,135.7 C260.4,134.4 256.5,130.5 255.8,128.0 C255.1,125.5 254.6,113.0 254.8,110.7 C255.0,108.4 256.8,106.2 257.7,105.0Z" fill="url(#wg)" filter="url(#bl0)"/></g><g clip-path="url(#cdl)"><path d="M108.3,250.4 C112.5,249.9 121.5,249.0 127.0,249.4 C132.5,249.9 137.3,251.2 141.4,253.0 C145.5,254.9 148.6,257.8 151.5,260.5 C154.4,263.2 156.3,266.1 158.7,269.3 C161.1,272.5 163.5,276.0 165.9,279.7 C168.3,283.3 170.8,287.3 173.0,291.4 C175.2,295.5 177.1,300.9 178.8,304.2 C180.5,307.6 182.0,309.1 183.1,311.6 C184.2,314.1 185.3,316.3 185.3,319.0 C185.3,321.7 184.7,325.1 183.1,327.8 C181.5,330.5 178.8,333.2 175.9,335.2 C173.0,337.1 170.0,338.3 165.9,339.6 C161.8,340.8 156.3,341.3 151.5,342.8 C146.7,344.3 141.9,346.1 137.1,348.5 C132.3,350.9 127.4,355.0 122.7,357.3 C118.0,359.5 112.8,360.9 108.7,362.0 C104.6,363.0 100.9,363.7 97.9,363.6 C94.9,363.6 92.7,363.1 90.7,361.8 C88.7,360.4 87.1,357.3 85.8,355.4 C84.5,353.6 84.1,352.2 82.9,350.7 C81.6,349.3 80.2,347.7 78.3,346.8 C76.4,346.0 74.1,346.1 71.4,345.7 C68.7,345.3 65.1,344.9 61.9,344.4 C58.7,343.8 55.0,343.2 52.3,342.4 C49.6,341.6 47.5,340.7 45.6,339.5 C43.7,338.2 42.2,336.8 40.8,335.1 C39.4,333.3 38.2,331.3 37.4,329.2 C36.6,327.1 36.1,324.8 35.9,322.4 C35.7,319.9 35.9,316.8 36.2,314.5 C36.5,312.1 36.9,310.4 37.5,308.3 C38.1,306.3 38.7,304.8 39.8,302.3 C40.9,299.8 42.4,296.4 44.1,293.5 C45.8,290.5 47.7,287.5 49.9,284.6 C52.1,281.6 54.6,278.4 57.1,275.8 C59.6,273.2 62.2,270.9 64.8,269.0 C67.4,267.1 70.2,265.6 72.7,264.2 C75.2,262.7 77.5,261.6 79.9,260.3 C82.3,259.0 84.7,257.7 87.1,256.6 C89.5,255.6 91.9,254.8 94.3,254.1 C96.7,253.3 99.2,252.8 101.5,252.2 C103.8,251.6 104.0,250.8 108.3,250.4Z" fill="#525a70"/><g filter="url(#bl1)"><path d="M70.0,257.0 C71.6,255.5 79.1,254.6 82.0,254.0 C84.9,253.4 93.2,251.2 95.0,252.0 C96.8,252.8 97.8,259.2 97.0,261.0 C96.2,262.8 90.2,265.9 88.0,267.0 C85.8,268.1 80.3,270.0 78.0,270.0 C75.7,270.0 68.9,268.5 68.0,267.0 C67.1,265.5 68.4,258.5 70.0,257.0Z" fill="#6c6c6c"/><path d="M63.0,271.0 C64.0,268.8 70.0,266.4 72.0,266.0 C74.0,265.6 78.6,266.4 80.0,268.0 C81.4,269.6 83.8,277.2 84.0,280.0 C84.2,282.8 83.4,290.5 82.0,292.0 C80.6,293.5 74.2,293.8 72.0,293.0 C69.8,292.2 64.0,287.6 63.0,285.0 C62.0,282.4 62.0,273.2 63.0,271.0Z" fill="#4a5068"/><path d="M83.0,264.0 C84.4,261.8 94.0,259.6 96.0,261.0 C98.0,262.4 99.7,272.4 100.0,276.0 C100.3,279.6 100.4,290.0 99.0,292.0 C97.6,294.0 89.8,294.4 88.0,293.0 C86.2,291.6 84.6,283.4 84.0,280.0 C83.4,276.6 81.6,266.2 83.0,264.0Z" fill="#686a6a"/><path d="M98.0,257.0 C98.9,254.7 105.5,253.7 107.0,255.0 C108.5,256.3 110.4,264.4 111.0,268.0 C111.6,271.6 112.8,283.3 112.0,286.0 C111.2,288.7 105.5,292.3 104.0,291.0 C102.5,289.7 99.7,279.0 99.0,275.0 C98.3,271.0 97.1,259.3 98.0,257.0Z" fill="#4a5470"/><path d="M51.0,275.0 C52.4,273.5 59.5,270.7 61.0,272.0 C62.5,273.3 64.6,284.0 64.0,286.0 C63.4,288.0 57.8,289.1 56.0,289.0 C54.2,288.9 49.6,286.6 49.0,285.0 C48.4,283.4 49.6,276.5 51.0,275.0Z" fill="#686a6a"/><path d="M48.0,290.0 C49.8,287.9 53.9,287.1 56.0,287.0 C58.1,286.9 64.7,286.9 66.0,289.0 C67.3,291.1 67.3,301.3 67.0,305.0 C66.7,308.7 64.6,318.3 63.0,321.0 C61.4,323.7 55.3,327.9 53.0,328.0 C50.7,328.1 44.4,324.7 43.0,322.0 C41.6,319.3 40.4,308.7 41.0,305.0 C41.6,301.3 46.2,292.1 48.0,290.0Z" fill="#8a8670"/><path d="M59.0,308.0 C60.4,306.4 69.1,305.8 72.0,306.0 C74.9,306.2 82.7,308.1 84.0,310.0 C85.3,311.9 84.6,320.4 83.0,322.0 C81.4,323.6 72.7,324.2 70.0,324.0 C67.3,323.8 61.3,321.9 60.0,320.0 C58.7,318.1 57.6,309.6 59.0,308.0Z" fill="#6e7070"/><path d="M106.0,250.0 C107.5,248.9 116.1,247.8 118.0,248.5 C119.9,249.2 121.8,254.2 122.0,256.0 C122.2,257.8 121.4,262.9 120.0,264.0 C118.6,265.1 111.8,265.7 110.0,265.0 C108.2,264.3 105.5,259.8 105.0,258.0 C104.5,256.2 104.5,251.1 106.0,250.0Z" fill="#27397a"/><path d="M119.0,250.0 C120.5,248.8 129.9,248.3 132.0,249.0 C134.1,249.7 136.7,254.1 137.0,256.0 C137.3,257.9 136.5,263.8 135.0,265.0 C133.5,266.2 125.9,266.7 124.0,266.0 C122.1,265.3 119.6,260.9 119.0,259.0 C118.4,257.1 117.5,251.2 119.0,250.0Z" fill="#7c7c7a"/><path d="M128.0,262.0 C129.2,260.7 137.8,258.8 140.0,259.0 C142.2,259.2 146.3,262.2 147.0,264.0 C147.7,265.8 147.3,272.6 146.0,274.0 C144.7,275.4 137.9,276.5 136.0,276.0 C134.1,275.5 130.9,271.6 130.0,270.0 C129.1,268.4 126.8,263.3 128.0,262.0Z" fill="#2c3a74"/><path d="M134.0,253.0 C134.9,251.8 143.2,251.2 146.0,252.0 C148.8,252.8 155.9,257.9 158.0,260.0 C160.1,262.1 164.3,268.2 164.0,270.0 C163.7,271.8 157.1,275.5 155.0,275.0 C152.9,274.5 148.0,267.5 146.0,266.0 C144.0,264.5 139.4,263.5 138.0,262.0 C136.6,260.5 133.1,254.2 134.0,253.0Z" fill="#aea45a"/><path d="M152.0,262.0 C152.5,260.6 159.7,263.9 162.0,266.0 C164.3,268.1 169.9,276.3 172.0,280.0 C174.1,283.7 179.5,295.0 180.0,298.0 C180.5,301.0 177.6,306.5 176.0,306.0 C174.4,305.5 168.1,297.3 166.0,294.0 C163.9,290.7 159.6,281.7 158.0,278.0 C156.4,274.3 151.5,263.4 152.0,262.0Z" fill="#9c9660"/><path d="M112.0,278.0 C113.4,275.7 121.7,276.0 125.0,276.0 C128.3,276.0 137.1,277.1 140.0,278.0 C142.9,278.9 149.3,281.9 150.0,284.0 C150.7,286.1 147.6,293.8 146.0,296.0 C144.4,298.2 139.0,301.9 136.0,303.0 C133.0,304.1 122.7,305.8 120.0,305.0 C117.3,304.2 113.9,299.1 113.0,296.0 C112.1,292.9 110.6,280.3 112.0,278.0Z" fill="#767676"/><path d="M143.0,288.0 C144.1,286.1 149.8,286.1 152.0,286.0 C154.2,285.9 159.9,286.3 162.0,287.0 C164.1,287.7 168.8,289.8 170.0,292.0 C171.2,294.2 172.2,303.2 172.0,306.0 C171.8,308.8 169.6,314.6 168.0,316.0 C166.4,317.4 160.6,318.2 158.0,318.0 C155.4,317.8 147.8,315.9 146.0,314.0 C144.2,312.1 143.3,305.0 143.0,302.0 C142.7,299.0 141.9,289.9 143.0,288.0Z" fill="#c2b44a"/><path d="M113.6,288.5 C114.6,290.1 115.4,305.3 114.4,308.6 C113.4,311.9 107.8,314.7 105.2,317.0 C102.6,319.3 94.2,326.0 92.0,328.0 C89.8,330.0 86.9,334.2 86.0,334.0 C85.1,333.8 83.5,328.3 84.0,326.0 C84.5,323.7 87.9,316.6 90.0,314.0 C92.1,311.4 99.9,305.8 101.8,303.6 C103.7,301.4 104.6,296.8 106.0,295.0 C107.4,293.2 112.6,286.9 113.6,288.5Z" fill="#1c3a88"/><path d="M116.9,310.3 C118.4,307.7 125.3,305.9 128.0,305.0 C130.7,304.1 139.5,301.9 140.4,302.7 C141.3,303.5 137.6,309.9 136.0,312.0 C134.4,314.1 128.6,318.2 127.0,320.3 C125.4,322.4 123.4,329.6 122.0,330.4 C120.6,331.2 115.8,329.3 115.2,327.0 C114.6,324.7 115.4,312.9 116.9,310.3Z" fill="#1e3a88"/><path d="M128.0,318.0 C128.9,315.7 137.4,311.2 140.0,310.0 C142.6,308.8 148.6,306.8 150.0,308.0 C151.4,309.2 152.5,317.6 152.0,320.0 C151.5,322.4 148.3,327.8 146.0,329.0 C143.7,330.2 134.1,331.3 132.0,330.0 C129.9,328.7 127.1,320.3 128.0,318.0Z" fill="#4e5670"/><path d="M149.0,314.0 C151.2,312.8 161.4,315.5 165.0,316.0 C168.6,316.5 177.6,317.1 180.0,318.0 C182.4,318.9 186.0,322.2 186.0,324.0 C186.0,325.8 182.3,331.5 180.0,333.0 C177.7,334.5 169.5,336.4 166.0,337.0 C162.5,337.6 152.3,339.3 150.0,338.0 C147.7,336.7 146.1,328.8 146.0,326.0 C145.9,323.2 146.8,315.2 149.0,314.0Z" fill="#7a7870"/><path d="M92.0,351.0 C92.5,349.6 97.4,344.9 99.0,343.0 C100.6,341.1 104.4,336.6 106.0,335.0 C107.6,333.4 111.7,329.5 113.0,329.0 C114.3,328.5 117.1,329.6 117.0,331.0 C116.9,332.4 113.6,338.8 112.0,341.0 C110.4,343.2 105.0,348.4 103.0,350.0 C101.0,351.6 96.3,354.9 95.0,355.0 C93.7,355.1 91.5,352.4 92.0,351.0Z" fill="#c6b43a"/><path d="M112.0,350.0 C113.2,348.5 119.7,345.2 122.0,344.0 C124.3,342.8 129.7,340.9 132.0,340.0 C134.3,339.1 140.6,335.9 142.0,336.0 C143.4,336.1 144.9,339.7 144.0,341.0 C143.1,342.3 136.6,345.5 134.0,347.0 C131.4,348.5 124.6,352.8 122.0,354.0 C119.4,355.2 113.2,357.5 112.0,357.0 C110.8,356.5 110.8,351.5 112.0,350.0Z" fill="#aca04e"/><path d="M85.0,340.0 C85.5,337.8 89.8,336.3 91.0,337.0 C92.2,337.7 94.7,343.6 95.0,346.0 C95.3,348.4 94.9,356.8 94.0,358.0 C93.1,359.2 88.0,358.1 87.0,356.0 C86.0,353.9 84.5,342.2 85.0,340.0Z" fill="#888070"/></g><path d="M108.3,250.4 C112.5,249.9 121.5,249.0 127.0,249.4 C132.5,249.9 137.3,251.2 141.4,253.0 C145.5,254.9 148.6,257.8 151.5,260.5 C154.4,263.2 156.3,266.1 158.7,269.3 C161.1,272.5 163.5,276.0 165.9,279.7 C168.3,283.3 170.8,287.3 173.0,291.4 C175.2,295.5 177.1,300.9 178.8,304.2 C180.5,307.6 182.0,309.1 183.1,311.6 C184.2,314.1 185.3,316.3 185.3,319.0 C185.3,321.7 184.7,325.1 183.1,327.8 C181.5,330.5 178.8,333.2 175.9,335.2 C173.0,337.1 170.0,338.3 165.9,339.6 C161.8,340.8 156.3,341.3 151.5,342.8 C146.7,344.3 141.9,346.1 137.1,348.5 C132.3,350.9 127.4,355.0 122.7,357.3 C118.0,359.5 112.8,360.9 108.7,362.0 C104.6,363.0 100.9,363.7 97.9,363.6 C94.9,363.6 92.7,363.1 90.7,361.8 C88.7,360.4 87.1,357.3 85.8,355.4 C84.5,353.6 84.1,352.2 82.9,350.7 C81.6,349.3 80.2,347.7 78.3,346.8 C76.4,346.0 74.1,346.1 71.4,345.7 C68.7,345.3 65.1,344.9 61.9,344.4 C58.7,343.8 55.0,343.2 52.3,342.4 C49.6,341.6 47.5,340.7 45.6,339.5 C43.7,338.2 42.2,336.8 40.8,335.1 C39.4,333.3 38.2,331.3 37.4,329.2 C36.6,327.1 36.1,324.8 35.9,322.4 C35.7,319.9 35.9,316.8 36.2,314.5 C36.5,312.1 36.9,310.4 37.5,308.3 C38.1,306.3 38.7,304.8 39.8,302.3 C40.9,299.8 42.4,296.4 44.1,293.5 C45.8,290.5 47.7,287.5 49.9,284.6 C52.1,281.6 54.6,278.4 57.1,275.8 C59.6,273.2 62.2,270.9 64.8,269.0 C67.4,267.1 70.2,265.6 72.7,264.2 C75.2,262.7 77.5,261.6 79.9,260.3 C82.3,259.0 84.7,257.7 87.1,256.6 C89.5,255.6 91.9,254.8 94.3,254.1 C96.7,253.3 99.2,252.8 101.5,252.2 C103.8,251.6 104.0,250.8 108.3,250.4Z" fill="none" stroke="#2c3868" stroke-width="5" filter="url(#bl2)" opacity="0.9"/></g><g clip-path="url(#cdm)"><path d="M284.3,251.4 C288.2,251.8 292.8,253.0 297.1,254.3 C301.3,255.7 305.1,257.4 309.5,259.4 C314.0,261.4 319.5,263.9 323.7,266.5 C327.9,269.0 331.7,272.1 335.0,274.9 C338.3,277.7 340.9,280.2 343.5,283.3 C346.0,286.4 348.6,290.0 350.5,293.2 C352.4,296.4 353.7,299.6 355.0,302.7 C356.2,305.8 357.6,308.6 358.0,311.9 C358.4,315.2 358.2,319.0 357.2,322.6 C356.2,326.1 354.3,330.4 351.9,333.2 C349.5,336.0 346.8,337.5 342.7,339.3 C338.6,341.1 332.4,342.6 327.3,343.9 C322.2,345.2 315.6,345.2 312.0,346.9 C308.4,348.7 307.9,352.5 305.9,354.6 C303.9,356.6 302.3,358.0 299.7,359.2 C297.2,360.3 293.2,361.4 290.6,361.4 C287.9,361.4 286.9,360.3 284.0,359.2 C281.1,358.0 277.1,356.3 273.3,354.6 C269.4,352.8 265.1,350.3 261.0,348.5 C256.9,346.7 253.3,345.3 248.7,343.9 C244.1,342.5 237.7,341.2 233.4,340.1 C229.0,338.9 225.8,338.5 222.6,337.0 C219.4,335.6 216.4,333.8 214.2,331.7 C212.0,329.5 210.2,327.1 209.6,324.0 C208.9,321.0 209.6,316.9 210.4,313.4 C211.1,309.8 212.6,305.8 214.2,302.7 C215.7,299.6 217.7,297.5 219.6,294.6 C221.4,291.6 223.4,287.8 225.3,284.8 C227.2,281.7 229.0,279.1 230.9,276.3 C232.8,273.4 234.7,270.2 236.6,267.8 C238.5,265.5 240.1,264.0 242.2,262.3 C244.3,260.5 246.4,258.8 249.3,257.3 C252.1,255.7 255.2,254.0 259.2,253.0 C263.2,252.1 269.1,252.0 273.3,251.7 C277.4,251.4 280.3,250.9 284.3,251.4Z" fill="#102e6c"/><g filter="url(#bl1)"><path d="M244.4,257.2 C245.5,255.4 250.2,255.0 252.0,255.0 C253.8,255.0 258.5,255.0 260.0,257.2 C261.5,259.4 264.5,270.6 264.8,274.0 C265.1,277.4 261.8,283.2 262.4,286.0 C263.0,288.8 270.1,296.4 269.6,298.0 C269.1,299.6 260.8,300.5 258.0,300.0 C255.2,299.5 247.7,295.6 246.0,294.0 C244.3,292.4 243.5,288.8 243.2,286.0 C242.8,283.2 242.9,273.4 243.0,270.0 C243.1,266.6 243.3,258.9 244.4,257.2Z" fill="#2c3862"/><path d="M287.0,253.0 C288.1,251.5 296.7,254.3 300.0,255.0 C303.3,255.7 311.5,257.7 315.0,259.0 C318.5,260.3 326.7,263.8 330.0,266.0 C333.3,268.2 340.7,275.0 343.0,278.0 C345.3,281.0 349.6,289.7 350.0,292.0 C350.4,294.3 347.8,297.5 346.0,298.0 C344.2,298.5 337.7,296.6 335.0,296.0 C332.3,295.4 326.5,293.9 323.0,292.5 C319.5,291.1 308.4,285.7 305.0,284.0 C301.6,282.3 295.6,279.9 294.0,278.0 C292.4,276.1 291.8,270.9 291.0,268.0 C290.2,265.1 285.9,254.5 287.0,253.0Z" fill="#424a5e"/><path d="M224.0,287.0 C224.1,284.3 229.6,279.9 231.0,279.0 C232.4,278.1 234.7,277.5 236.0,279.0 C237.3,280.5 240.7,288.9 242.0,292.0 C243.3,295.1 246.5,303.2 247.0,306.0 C247.5,308.8 247.1,315.1 246.0,316.0 C244.9,316.9 239.9,315.6 238.0,314.0 C236.1,312.4 231.6,305.1 230.0,302.0 C228.4,298.9 223.9,289.7 224.0,287.0Z" fill="#686866"/><path d="M208.0,305.0 C208.7,301.7 212.4,295.5 214.0,294.0 C215.6,292.5 219.9,289.9 222.0,292.0 C224.1,294.1 230.6,307.6 232.0,312.0 C233.4,316.4 234.5,327.0 234.0,330.0 C233.5,333.0 230.3,337.4 228.0,338.0 C225.7,338.6 216.3,336.9 214.0,335.0 C211.7,333.1 208.7,325.5 208.0,322.0 C207.3,318.5 207.3,308.3 208.0,305.0Z" fill="#4c5064"/><path d="M236.0,322.0 C237.4,319.2 249.0,316.4 252.0,318.0 C255.0,319.6 259.2,332.6 262.0,336.0 C264.8,339.4 276.0,345.6 276.0,347.0 C276.0,348.4 266.2,348.6 262.0,348.0 C257.8,347.4 243.0,345.0 240.0,342.0 C237.0,339.0 234.6,324.8 236.0,322.0Z" fill="#0a2252"/><path d="M262.0,290.0 C262.0,289.3 275.6,284.5 280.0,284.0 C284.4,283.5 295.3,284.8 300.0,286.0 C304.7,287.2 315.8,291.7 320.0,294.0 C324.2,296.3 333.9,302.7 336.0,306.0 C338.1,309.3 338.5,319.2 338.0,322.0 C337.5,324.8 334.1,331.2 332.0,330.0 C329.9,328.8 323.7,316.0 320.0,312.0 C316.3,308.0 304.7,298.6 300.0,296.0 C295.3,293.4 284.4,290.7 280.0,290.0 C275.6,289.3 262.0,290.7 262.0,290.0Z" fill="#0c2860"/><path d="M341.0,298.0 C342.8,295.9 354.0,297.7 356.0,300.0 C358.0,302.3 358.7,314.7 358.0,318.0 C357.3,321.3 352.0,328.0 350.0,328.0 C348.0,328.0 342.1,321.5 341.0,318.0 C339.9,314.5 339.2,300.1 341.0,298.0Z" fill="#50586c"/><path d="M311.0,338.0 C313.6,336.8 331.2,336.2 334.0,337.0 C336.8,337.8 337.6,343.8 335.0,345.0 C332.4,346.2 314.8,347.8 312.0,347.0 C309.2,346.2 308.4,339.2 311.0,338.0Z" fill="#5e6068"/></g><path d="M284.3,251.4 C288.2,251.8 292.8,253.0 297.1,254.3 C301.3,255.7 305.1,257.4 309.5,259.4 C314.0,261.4 319.5,263.9 323.7,266.5 C327.9,269.0 331.7,272.1 335.0,274.9 C338.3,277.7 340.9,280.2 343.5,283.3 C346.0,286.4 348.6,290.0 350.5,293.2 C352.4,296.4 353.7,299.6 355.0,302.7 C356.2,305.8 357.6,308.6 358.0,311.9 C358.4,315.2 358.2,319.0 357.2,322.6 C356.2,326.1 354.3,330.4 351.9,333.2 C349.5,336.0 346.8,337.5 342.7,339.3 C338.6,341.1 332.4,342.6 327.3,343.9 C322.2,345.2 315.6,345.2 312.0,346.9 C308.4,348.7 307.9,352.5 305.9,354.6 C303.9,356.6 302.3,358.0 299.7,359.2 C297.2,360.3 293.2,361.4 290.6,361.4 C287.9,361.4 286.9,360.3 284.0,359.2 C281.1,358.0 277.1,356.3 273.3,354.6 C269.4,352.8 265.1,350.3 261.0,348.5 C256.9,346.7 253.3,345.3 248.7,343.9 C244.1,342.5 237.7,341.2 233.4,340.1 C229.0,338.9 225.8,338.5 222.6,337.0 C219.4,335.6 216.4,333.8 214.2,331.7 C212.0,329.5 210.2,327.1 209.6,324.0 C208.9,321.0 209.6,316.9 210.4,313.4 C211.1,309.8 212.6,305.8 214.2,302.7 C215.7,299.6 217.7,297.5 219.6,294.6 C221.4,291.6 223.4,287.8 225.3,284.8 C227.2,281.7 229.0,279.1 230.9,276.3 C232.8,273.4 234.7,270.2 236.6,267.8 C238.5,265.5 240.1,264.0 242.2,262.3 C244.3,260.5 246.4,258.8 249.3,257.3 C252.1,255.7 255.2,254.0 259.2,253.0 C263.2,252.1 269.1,252.0 273.3,251.7 C277.4,251.4 280.3,250.9 284.3,251.4Z" fill="none" stroke="#162650" stroke-width="5" filter="url(#bl2)" opacity="0.9"/><path d="M258.6,310.0 C259.4,308.0 263.8,304.4 265.4,303.2 C267.0,302.0 274.2,299.3 275.0,298.4 C275.8,297.5 272.6,295.3 273.0,294.6 C273.4,293.9 277.0,292.0 278.8,291.7 C280.6,291.4 289.9,291.4 291.3,291.7 C292.7,292.0 292.5,294.1 293.2,294.6 C293.9,295.1 296.2,295.9 298.0,296.5 C299.8,297.1 308.9,299.4 311.4,300.4 C313.9,301.3 321.1,304.5 323.0,306.0 C324.9,307.5 329.7,314.1 330.6,315.7 C331.6,317.2 332.7,320.2 332.5,321.5 C332.3,322.8 329.8,327.8 328.7,329.1 C327.6,330.4 322.5,333.9 321.0,334.9 C319.5,335.9 314.4,337.9 313.3,338.7 C312.2,339.5 310.1,341.4 309.5,342.6 C308.9,343.8 308.4,349.1 307.6,350.3 C306.8,351.5 303.3,354.6 301.8,355.0 C300.3,355.4 294.5,354.7 292.2,354.0 C289.9,353.3 281.1,349.4 278.8,348.3 C276.5,347.2 271.0,343.9 269.2,342.6 C267.4,341.3 261.8,336.9 260.6,335.0 C259.5,333.1 257.9,325.9 257.7,323.4 C257.5,320.9 257.8,312.0 258.6,310.0Z" fill="none" stroke="#0c2458" stroke-width="8.0" stroke-linejoin="round" filter="url(#bl0)"/><path d="M258.6,310.0 C259.4,308.0 263.8,304.4 265.4,303.2 C267.0,302.0 274.2,299.3 275.0,298.4 C275.8,297.5 272.6,295.3 273.0,294.6 C273.4,293.9 277.0,292.0 278.8,291.7 C280.6,291.4 289.9,291.4 291.3,291.7 C292.7,292.0 292.5,294.1 293.2,294.6 C293.9,295.1 296.2,295.9 298.0,296.5 C299.8,297.1 308.9,299.4 311.4,300.4 C313.9,301.3 321.1,304.5 323.0,306.0 C324.9,307.5 329.7,314.1 330.6,315.7 C331.6,317.2 332.7,320.2 332.5,321.5 C332.3,322.8 329.8,327.8 328.7,329.1 C327.6,330.4 322.5,333.9 321.0,334.9 C319.5,335.9 314.4,337.9 313.3,338.7 C312.2,339.5 310.1,341.4 309.5,342.6 C308.9,343.8 308.4,349.1 307.6,350.3 C306.8,351.5 303.3,354.6 301.8,355.0 C300.3,355.4 294.5,354.7 292.2,354.0 C289.9,353.3 281.1,349.4 278.8,348.3 C276.5,347.2 271.0,343.9 269.2,342.6 C267.4,341.3 261.8,336.9 260.6,335.0 C259.5,333.1 257.9,325.9 257.7,323.4 C257.5,320.9 257.8,312.0 258.6,310.0Z" fill="url(#wg)" filter="url(#bl0)"/></g><text x="446.9" y="12.9" font-size="16.00" font-weight="bold" fill="#5d5d5d" text-anchor="start" textLength="75.5" lengthAdjust="spacingAndGlyphs" >Discovery</text><text x="643.8" y="13.2" font-size="16.00" font-weight="bold" fill="#5d5d5d" text-anchor="start" textLength="77.8" lengthAdjust="spacingAndGlyphs" >Validation</text><text x="6.9" y="45.9" font-size="14.80" font-weight="bold" fill="#000" text-anchor="start" textLength="10.8" lengthAdjust="spacingAndGlyphs" >A</text><text x="7.5" y="249.7" font-size="14.80" font-weight="bold" fill="#000" text-anchor="start" textLength="10.5" lengthAdjust="spacingAndGlyphs" >D</text><text x="390.2" y="44.1" font-size="13.40" font-weight="bold" fill="#000" text-anchor="start" textLength="7.8" lengthAdjust="spacingAndGlyphs" >B</text><text x="592.0" y="44.0" font-size="13.40" font-weight="bold" fill="#000" text-anchor="start" textLength="8.8" lengthAdjust="spacingAndGlyphs" >C</text><text x="390.0" y="248.2" font-size="13.40" font-weight="bold" fill="#000" text-anchor="start" textLength="7.8" lengthAdjust="spacingAndGlyphs" >E</text><text x="592.0" y="248.2" font-size="13.40" font-weight="bold" fill="#000" text-anchor="start" textLength="8.3" lengthAdjust="spacingAndGlyphs" >F</text><text x="75.0" y="190.0" font-size="16.30" font-weight="bold" fill="#5f5f5f" text-anchor="start" textLength="244.7" lengthAdjust="spacingAndGlyphs" >Functional Connectivity Degree</text><text x="77.6" y="394.6" font-size="16.30" font-weight="bold" fill="#5f5f5f" text-anchor="start" textLength="238.8" lengthAdjust="spacingAndGlyphs" >Structural Connectivity Degree</text><text x="416.0" y="38.8" font-size="9.50" font-weight="normal" fill="#111" text-anchor="start" textLength="132.4" lengthAdjust="spacingAndGlyphs" stroke="#111" stroke-width="0.22">Functional Connectivity Degree</text><text x="433.4" y="53.9" font-size="6.6" fill="#2c2c2c" textLength="124.5" lengthAdjust="spacingAndGlyphs"><tspan font-style="italic">r</tspan>=0.300, <tspan font-style="italic">p</tspan><tspan font-size="4.6" dy="1.3" font-style="italic">perm</tspan><tspan dy="-1.3">=0.1164, </tspan><tspan font-style="italic">p</tspan><tspan font-size="4.6" dy="1.3" font-style="italic">perm</tspan><tspan font-size="3.6" dy="-2" font-style="italic">sw</tspan><tspan dy="0.7">=0.1732</tspan></text><line x1="403.0" y1="183.10" x2="406.8" y2="183.10" stroke="#3c3c3c" stroke-width="1"/><text x="401.4" y="185.3" font-size="6.10" font-weight="normal" fill="#3c3c3c" text-anchor="end" textLength="11.7" lengthAdjust="spacingAndGlyphs" >0.78</text><line x1="403.0" y1="159.60" x2="406.8" y2="159.60" stroke="#3c3c3c" stroke-width="1"/><text x="401.4" y="161.7" font-size="6.10" font-weight="normal" fill="#3c3c3c" text-anchor="end" textLength="11.7" lengthAdjust="spacingAndGlyphs" >0.80</text><line x1="403.0" y1="136.10" x2="406.8" y2="136.10" stroke="#3c3c3c" stroke-width="1"/><text x="401.4" y="138.3" font-size="6.10" font-weight="normal" fill="#3c3c3c" text-anchor="end" textLength="11.7" lengthAdjust="spacingAndGlyphs" >0.82</text><line x1="403.0" y1="112.60" x2="406.8" y2="112.60" stroke="#3c3c3c" stroke-width="1"/><text x="401.4" y="114.8" font-size="6.10" font-weight="normal" fill="#3c3c3c" text-anchor="end" textLength="11.7" lengthAdjust="spacingAndGlyphs" >0.84</text><line x1="403.0" y1="89.10" x2="406.8" y2="89.10" stroke="#3c3c3c" stroke-width="1"/><text x="401.4" y="91.3" font-size="6.10" font-weight="normal" fill="#3c3c3c" text-anchor="end" textLength="11.7" lengthAdjust="spacingAndGlyphs" >0.86</text><line x1="403.0" y1="65.60" x2="406.8" y2="65.60" stroke="#3c3c3c" stroke-width="1"/><text x="401.4" y="67.8" font-size="6.10" font-weight="normal" fill="#3c3c3c" text-anchor="end" textLength="11.7" lengthAdjust="spacingAndGlyphs" >0.88</text><line x1="410.30" y1="190.0" x2="410.30" y2="193.8" stroke="#3c3c3c" stroke-width="1"/><text x="410.3" y="200.2" font-size="6.10" font-weight="normal" fill="#3c3c3c" text-anchor="middle" >5</text><line x1="434.72" y1="190.0" x2="434.72" y2="193.8" stroke="#3c3c3c" stroke-width="1"/><text x="434.7" y="200.2" font-size="6.10" font-weight="normal" fill="#3c3c3c" text-anchor="middle" >10</text><line x1="459.13" y1="190.0" x2="459.13" y2="193.8" stroke="#3c3c3c" stroke-width="1"/><text x="459.1" y="200.2" font-size="6.10" font-weight="normal" fill="#3c3c3c" text-anchor="middle" >15</text><line x1="483.55" y1="190.0" x2="483.55" y2="193.8" stroke="#3c3c3c" stroke-width="1"/><text x="483.5" y="200.2" font-size="6.10" font-weight="normal" fill="#3c3c3c" text-anchor="middle" >20</text><line x1="507.97" y1="190.0" x2="507.97" y2="193.8" stroke="#3c3c3c" stroke-width="1"/><text x="508.0" y="200.2" font-size="6.10" font-weight="normal" fill="#3c3c3c" text-anchor="middle" >25</text><line x1="532.38" y1="190.0" x2="532.38" y2="193.8" stroke="#3c3c3c" stroke-width="1"/><text x="532.4" y="200.2" font-size="6.10" font-weight="normal" fill="#3c3c3c" text-anchor="middle" >30</text><line x1="556.80" y1="190.0" x2="556.80" y2="193.8" stroke="#3c3c3c" stroke-width="1"/><text x="556.8" y="200.2" font-size="6.10" font-weight="normal" fill="#3c3c3c" text-anchor="middle" >35</text><text x="482.9" y="208.7" font-size="8.60" font-weight="normal" fill="#111" text-anchor="middle" textLength="30.2" lengthAdjust="spacingAndGlyphs" stroke="#111" stroke-width="0.2">Degree</text><text x="0" y="0" font-size="8.6" fill="#1a1a1a" stroke="#1a1a1a" stroke-width="0.15" text-anchor="middle" textLength="89" lengthAdjust="spacingAndGlyphs" transform="translate(386.1,124.4) rotate(-90)">Lag-1 Autocorrelation</text><text x="618.1" y="39.2" font-size="9.50" font-weight="normal" fill="#111" text-anchor="start" textLength="132.1" lengthAdjust="spacingAndGlyphs" stroke="#111" stroke-width="0.22">Functional Connectivity Degree</text><text x="632.4" y="53.9" font-size="6.6" fill="#2c2c2c" textLength="124.5" lengthAdjust="spacingAndGlyphs"><tspan font-style="italic">r</tspan>=0.385, <tspan font-style="italic">p</tspan><tspan font-size="4.6" dy="1.3" font-style="italic">perm</tspan><tspan dy="-1.3">=0.0190, </tspan><tspan font-style="italic">p</tspan><tspan font-size="4.6" dy="1.3" font-style="italic">perm</tspan><tspan font-size="3.6" dy="-2" font-style="italic">sw</tspan><tspan dy="0.7">=0.0280</tspan></text><line x1="605.1" y1="174.40" x2="608.9" y2="174.40" stroke="#3c3c3c" stroke-width="1"/><text x="603.5" y="176.6" font-size="6.10" font-weight="normal" fill="#3c3c3c" text-anchor="end" textLength="15.3" lengthAdjust="spacingAndGlyphs" >0.978</text><line x1="605.1" y1="157.83" x2="608.9" y2="157.83" stroke="#3c3c3c" stroke-width="1"/><text x="603.5" y="160.0" font-size="6.10" font-weight="normal" fill="#3c3c3c" text-anchor="end" textLength="15.3" lengthAdjust="spacingAndGlyphs" >0.979</text><line x1="605.1" y1="141.26" x2="608.9" y2="141.26" stroke="#3c3c3c" stroke-width="1"/><text x="603.5" y="143.4" font-size="6.10" font-weight="normal" fill="#3c3c3c" text-anchor="end" textLength="15.3" lengthAdjust="spacingAndGlyphs" >0.980</text><line x1="605.1" y1="124.69" x2="608.9" y2="124.69" stroke="#3c3c3c" stroke-width="1"/><text x="603.5" y="126.8" font-size="6.10" font-weight="normal" fill="#3c3c3c" text-anchor="end" textLength="15.3" lengthAdjust="spacingAndGlyphs" >0.981</text><line x1="605.1" y1="108.11" x2="608.9" y2="108.11" stroke="#3c3c3c" stroke-width="1"/><text x="603.5" y="110.3" font-size="6.10" font-weight="normal" fill="#3c3c3c" text-anchor="end" textLength="15.3" lengthAdjust="spacingAndGlyphs" >0.982</text><line x1="605.1" y1="91.54" x2="608.9" y2="91.54" stroke="#3c3c3c" stroke-width="1"/><text x="603.5" y="93.7" font-size="6.10" font-weight="normal" fill="#3c3c3c" text-anchor="end" textLength="15.3" lengthAdjust="spacingAndGlyphs" >0.983</text><line x1="605.1" y1="74.97" x2="608.9" y2="74.97" stroke="#3c3c3c" stroke-width="1"/><text x="603.5" y="77.1" font-size="6.10" font-weight="normal" fill="#3c3c3c" text-anchor="end" textLength="15.3" lengthAdjust="spacingAndGlyphs" >0.984</text><line x1="605.1" y1="58.40" x2="608.9" y2="58.40" stroke="#3c3c3c" stroke-width="1"/><text x="603.5" y="60.5" font-size="6.10" font-weight="normal" fill="#3c3c3c" text-anchor="end" textLength="15.3" lengthAdjust="spacingAndGlyphs" >0.985</text><line x1="630.70" y1="189.5" x2="630.70" y2="193.3" stroke="#3c3c3c" stroke-width="1"/><text x="630.7" y="199.7" font-size="6.10" font-weight="normal" fill="#3c3c3c" text-anchor="middle" >10</text><line x1="656.53" y1="189.5" x2="656.53" y2="193.3" stroke="#3c3c3c" stroke-width="1"/><text x="656.5" y="199.7" font-size="6.10" font-weight="normal" fill="#3c3c3c" text-anchor="middle" >15</text><line x1="682.35" y1="189.5" x2="682.35" y2="193.3" stroke="#3c3c3c" stroke-width="1"/><text x="682.4" y="199.7" font-size="6.10" font-weight="normal" fill="#3c3c3c" text-anchor="middle" >20</text><line x1="708.17" y1="189.5" x2="708.17" y2="193.3" stroke="#3c3c3c" stroke-width="1"/><text x="708.2" y="199.7" font-size="6.10" font-weight="normal" fill="#3c3c3c" text-anchor="middle" >25</text><line x1="734.00" y1="189.5" x2="734.00" y2="193.3" stroke="#3c3c3c" stroke-width="1"/><text x="734.0" y="199.7" font-size="6.10" font-weight="normal" fill="#3c3c3c" text-anchor="middle" >30</text><text x="683.6" y="208.2" font-size="8.60" font-weight="normal" fill="#111" text-anchor="middle" textLength="30.2" lengthAdjust="spacingAndGlyphs" stroke="#111" stroke-width="0.2">Degree</text><text x="0" y="0" font-size="8.6" fill="#1a1a1a" stroke="#1a1a1a" stroke-width="0.15" text-anchor="middle" textLength="89" lengthAdjust="spacingAndGlyphs" transform="translate(584.2,124.2) rotate(-90)">Lag-1 Autocorrelation</text><text x="418.0" y="240.4" font-size="9.50" font-weight="normal" fill="#111" text-anchor="start" textLength="130.8" lengthAdjust="spacingAndGlyphs" stroke="#111" stroke-width="0.22">Structural Connectivity Degree</text><text x="431.7" y="255.8" font-size="6.6" fill="#2c2c2c" textLength="126.2" lengthAdjust="spacingAndGlyphs"><tspan font-style="italic">r</tspan>=0.269, <tspan font-style="italic">p</tspan><tspan font-size="4.6" dy="1.3" font-style="italic">perm</tspan><tspan dy="-1.3">=0.0143, </tspan><tspan font-style="italic">p</tspan><tspan font-size="4.6" dy="1.3" font-style="italic">perm</tspan><tspan font-size="3.6" dy="-2" font-style="italic">sw</tspan><tspan dy="0.7">=0.0469</tspan></text><line x1="404.2" y1="387.00" x2="408.0" y2="387.00" stroke="#3c3c3c" stroke-width="1"/><text x="402.6" y="389.1" font-size="6.10" font-weight="normal" fill="#3c3c3c" text-anchor="end" textLength="11.7" lengthAdjust="spacingAndGlyphs" >0.78</text><line x1="404.2" y1="363.14" x2="408.0" y2="363.14" stroke="#3c3c3c" stroke-width="1"/><text x="402.6" y="365.3" font-size="6.10" font-weight="normal" fill="#3c3c3c" text-anchor="end" textLength="11.7" lengthAdjust="spacingAndGlyphs" >0.80</text><line x1="404.2" y1="339.28" x2="408.0" y2="339.28" stroke="#3c3c3c" stroke-width="1"/><text x="402.6" y="341.4" font-size="6.10" font-weight="normal" fill="#3c3c3c" text-anchor="end" textLength="11.7" lengthAdjust="spacingAndGlyphs" >0.82</text><line x1="404.2" y1="315.42" x2="408.0" y2="315.42" stroke="#3c3c3c" stroke-width="1"/><text x="402.6" y="317.6" font-size="6.10" font-weight="normal" fill="#3c3c3c" text-anchor="end" textLength="11.7" lengthAdjust="spacingAndGlyphs" >0.84</text><line x1="404.2" y1="291.56" x2="408.0" y2="291.56" stroke="#3c3c3c" stroke-width="1"/><text x="402.6" y="293.7" font-size="6.10" font-weight="normal" fill="#3c3c3c" text-anchor="end" textLength="11.7" lengthAdjust="spacingAndGlyphs" >0.86</text><line x1="404.2" y1="267.70" x2="408.0" y2="267.70" stroke="#3c3c3c" stroke-width="1"/><text x="402.6" y="269.8" font-size="6.10" font-weight="normal" fill="#3c3c3c" text-anchor="end" textLength="11.7" lengthAdjust="spacingAndGlyphs" >0.88</text><line x1="414.50" y1="393.9" x2="414.50" y2="397.7" stroke="#3c3c3c" stroke-width="1"/><text x="414.5" y="404.1" font-size="6.10" font-weight="normal" fill="#3c3c3c" text-anchor="middle" >0</text><line x1="432.54" y1="393.9" x2="432.54" y2="397.7" stroke="#3c3c3c" stroke-width="1"/><text x="432.5" y="404.1" font-size="6.10" font-weight="normal" fill="#3c3c3c" text-anchor="middle" >20</text><line x1="450.57" y1="393.9" x2="450.57" y2="397.7" stroke="#3c3c3c" stroke-width="1"/><text x="450.6" y="404.1" font-size="6.10" font-weight="normal" fill="#3c3c3c" text-anchor="middle" >40</text><line x1="468.61" y1="393.9" x2="468.61" y2="397.7" stroke="#3c3c3c" stroke-width="1"/><text x="468.6" y="404.1" font-size="6.10" font-weight="normal" fill="#3c3c3c" text-anchor="middle" >60</text><line x1="486.65" y1="393.9" x2="486.65" y2="397.7" stroke="#3c3c3c" stroke-width="1"/><text x="486.6" y="404.1" font-size="6.10" font-weight="normal" fill="#3c3c3c" text-anchor="middle" >80</text><line x1="504.69" y1="393.9" x2="504.69" y2="397.7" stroke="#3c3c3c" stroke-width="1"/><text x="504.7" y="404.1" font-size="6.10" font-weight="normal" fill="#3c3c3c" text-anchor="middle" >100</text><line x1="522.72" y1="393.9" x2="522.72" y2="397.7" stroke="#3c3c3c" stroke-width="1"/><text x="522.7" y="404.1" font-size="6.10" font-weight="normal" fill="#3c3c3c" text-anchor="middle" >120</text><line x1="540.76" y1="393.9" x2="540.76" y2="397.7" stroke="#3c3c3c" stroke-width="1"/><text x="540.8" y="404.1" font-size="6.10" font-weight="normal" fill="#3c3c3c" text-anchor="middle" >140</text><line x1="558.80" y1="393.9" x2="558.80" y2="397.7" stroke="#3c3c3c" stroke-width="1"/><text x="558.8" y="404.1" font-size="6.10" font-weight="normal" fill="#3c3c3c" text-anchor="middle" >160</text><text x="483.6" y="412.6" font-size="8.60" font-weight="normal" fill="#111" text-anchor="middle" textLength="30.2" lengthAdjust="spacingAndGlyphs" stroke="#111" stroke-width="0.2">Degree</text><text x="0" y="0" font-size="8.6" fill="#1a1a1a" stroke="#1a1a1a" stroke-width="0.15" text-anchor="middle" textLength="89" lengthAdjust="spacingAndGlyphs" transform="translate(387.3,327.4) rotate(-90)">Lag-1 Autocorrelation</text><text x="616.5" y="239.2" font-size="9.50" font-weight="normal" fill="#111" text-anchor="start" textLength="131.3" lengthAdjust="spacingAndGlyphs" stroke="#111" stroke-width="0.22">Structural Connectivity Degree</text><text x="626.4" y="254.9" font-size="6.6" fill="#2c2c2c" textLength="129.3" lengthAdjust="spacingAndGlyphs"><tspan font-style="italic">r</tspan>=0.419, <tspan font-style="italic">p</tspan><tspan font-size="4.6" dy="1.3" font-style="italic">perm</tspan><tspan dy="-1.3">=0.0001, </tspan><tspan font-style="italic">p</tspan><tspan font-size="4.6" dy="1.3" font-style="italic">perm</tspan><tspan font-size="3.6" dy="-2" font-style="italic">sw</tspan><tspan dy="0.7">=0.0006</tspan></text><line x1="603.4" y1="379.70" x2="607.2" y2="379.70" stroke="#3c3c3c" stroke-width="1"/><text x="601.8" y="381.8" font-size="6.10" font-weight="normal" fill="#3c3c3c" text-anchor="end" textLength="15.3" lengthAdjust="spacingAndGlyphs" >0.978</text><line x1="603.4" y1="362.66" x2="607.2" y2="362.66" stroke="#3c3c3c" stroke-width="1"/><text x="601.8" y="364.8" font-size="6.10" font-weight="normal" fill="#3c3c3c" text-anchor="end" textLength="15.3" lengthAdjust="spacingAndGlyphs" >0.979</text><line x1="603.4" y1="345.61" x2="607.2" y2="345.61" stroke="#3c3c3c" stroke-width="1"/><text x="601.8" y="347.8" font-size="6.10" font-weight="normal" fill="#3c3c3c" text-anchor="end" textLength="15.3" lengthAdjust="spacingAndGlyphs" >0.980</text><line x1="603.4" y1="328.57" x2="607.2" y2="328.57" stroke="#3c3c3c" stroke-width="1"/><text x="601.8" y="330.7" font-size="6.10" font-weight="normal" fill="#3c3c3c" text-anchor="end" textLength="15.3" lengthAdjust="spacingAndGlyphs" >0.981</text><line x1="603.4" y1="311.53" x2="607.2" y2="311.53" stroke="#3c3c3c" stroke-width="1"/><text x="601.8" y="313.7" font-size="6.10" font-weight="normal" fill="#3c3c3c" text-anchor="end" textLength="15.3" lengthAdjust="spacingAndGlyphs" >0.982</text><line x1="603.4" y1="294.49" x2="607.2" y2="294.49" stroke="#3c3c3c" stroke-width="1"/><text x="601.8" y="296.6" font-size="6.10" font-weight="normal" fill="#3c3c3c" text-anchor="end" textLength="15.3" lengthAdjust="spacingAndGlyphs" >0.983</text><line x1="603.4" y1="277.44" x2="607.2" y2="277.44" stroke="#3c3c3c" stroke-width="1"/><text x="601.8" y="279.6" font-size="6.10" font-weight="normal" fill="#3c3c3c" text-anchor="end" textLength="15.3" lengthAdjust="spacingAndGlyphs" >0.984</text><line x1="603.4" y1="260.40" x2="607.2" y2="260.40" stroke="#3c3c3c" stroke-width="1"/><text x="601.8" y="262.5" font-size="6.10" font-weight="normal" fill="#3c3c3c" text-anchor="end" textLength="15.3" lengthAdjust="spacingAndGlyphs" >0.985</text><line x1="613.40" y1="395.4" x2="613.40" y2="399.2" stroke="#3c3c3c" stroke-width="1"/><text x="613.4" y="405.6" font-size="6.10" font-weight="normal" fill="#3c3c3c" text-anchor="middle" >0</text><line x1="635.68" y1="395.4" x2="635.68" y2="399.2" stroke="#3c3c3c" stroke-width="1"/><text x="635.7" y="405.6" font-size="6.10" font-weight="normal" fill="#3c3c3c" text-anchor="middle" >25</text><line x1="657.97" y1="395.4" x2="657.97" y2="399.2" stroke="#3c3c3c" stroke-width="1"/><text x="658.0" y="405.6" font-size="6.10" font-weight="normal" fill="#3c3c3c" text-anchor="middle" >50</text><line x1="680.25" y1="395.4" x2="680.25" y2="399.2" stroke="#3c3c3c" stroke-width="1"/><text x="680.2" y="405.6" font-size="6.10" font-weight="normal" fill="#3c3c3c" text-anchor="middle" >75</text><line x1="702.53" y1="395.4" x2="702.53" y2="399.2" stroke="#3c3c3c" stroke-width="1"/><text x="702.5" y="405.6" font-size="6.10" font-weight="normal" fill="#3c3c3c" text-anchor="middle" >100</text><line x1="724.82" y1="395.4" x2="724.82" y2="399.2" stroke="#3c3c3c" stroke-width="1"/><text x="724.8" y="405.6" font-size="6.10" font-weight="normal" fill="#3c3c3c" text-anchor="middle" >125</text><line x1="747.10" y1="395.4" x2="747.10" y2="399.2" stroke="#3c3c3c" stroke-width="1"/><text x="747.1" y="405.6" font-size="6.10" font-weight="normal" fill="#3c3c3c" text-anchor="middle" >150</text><text x="682.3" y="414.1" font-size="8.60" font-weight="normal" fill="#111" text-anchor="middle" textLength="30.2" lengthAdjust="spacingAndGlyphs" stroke="#111" stroke-width="0.2">Degree</text><text x="0" y="0" font-size="8.6" fill="#1a1a1a" stroke="#1a1a1a" stroke-width="0.15" text-anchor="middle" textLength="89" lengthAdjust="spacingAndGlyphs" transform="translate(582.5,328.0) rotate(-90)">Lag-1 Autocorrelation</text><g clip-path="url(#clipB)"><circle cx="446.3" cy="63.9" r="1.45" fill="#2b76a0"/><circle cx="439.1" cy="79.1" r="1.45" fill="#2b76a0"/><circle cx="467.2" cy="73.5" r="1.45" fill="#2b76a0"/><circle cx="458.1" cy="82.2" r="1.45" fill="#2b76a0"/><circle cx="469.9" cy="80.2" r="1.45" fill="#2b76a0"/><circle cx="476.7" cy="77.8" r="1.45" fill="#2b76a0"/><circle cx="472.4" cy="83.3" r="1.45" fill="#2b76a0"/><circle cx="473.5" cy="84.1" r="1.45" fill="#2b76a0"/><circle cx="475.1" cy="85.7" r="1.45" fill="#2b76a0"/><circle cx="477.5" cy="81.8" r="1.45" fill="#2b76a0"/><circle cx="479.8" cy="81.0" r="1.45" fill="#2b76a0"/><circle cx="481.7" cy="81.8" r="1.45" fill="#2b76a0"/><circle cx="471.1" cy="86.5" r="1.45" fill="#2b76a0"/><circle cx="479.8" cy="84.9" r="1.45" fill="#2b76a0"/><circle cx="462.4" cy="88.1" r="1.45" fill="#2b76a0"/><circle cx="455.8" cy="88.9" r="1.45" fill="#2b76a0"/><circle cx="451.3" cy="92.5" r="1.45" fill="#2b76a0"/><circle cx="453.7" cy="93.2" r="1.45" fill="#2b76a0"/><circle cx="455.3" cy="93.6" r="1.45" fill="#2b76a0"/><circle cx="457.4" cy="95.7" r="1.45" fill="#2b76a0"/><circle cx="458.5" cy="94.7" r="1.45" fill="#2b76a0"/><circle cx="468.4" cy="91.2" r="1.45" fill="#2b76a0"/><circle cx="467.5" cy="92.8" r="1.45" fill="#2b76a0"/><circle cx="473.5" cy="91.2" r="1.45" fill="#2b76a0"/><circle cx="477.5" cy="88.9" r="1.45" fill="#2b76a0"/><circle cx="474.8" cy="94.1" r="1.45" fill="#2b76a0"/><circle cx="479.0" cy="92.0" r="1.45" fill="#2b76a0"/><circle cx="481.4" cy="94.4" r="1.45" fill="#2b76a0"/><circle cx="482.2" cy="95.7" r="1.45" fill="#2b76a0"/><circle cx="476.7" cy="96.8" r="1.45" fill="#2b76a0"/><circle cx="478.2" cy="97.6" r="1.45" fill="#2b76a0"/><circle cx="480.6" cy="97.3" r="1.45" fill="#2b76a0"/><circle cx="475.1" cy="98.8" r="1.45" fill="#2b76a0"/><circle cx="475.9" cy="100.8" r="1.45" fill="#2b76a0"/><circle cx="443.1" cy="98.4" r="1.45" fill="#2b76a0"/><circle cx="446.6" cy="100.0" r="1.45" fill="#2b76a0"/><circle cx="439.1" cy="101.1" r="1.45" fill="#2b76a0"/><circle cx="432.8" cy="103.1" r="1.45" fill="#2b76a0"/><circle cx="430.4" cy="104.2" r="1.45" fill="#2b76a0"/><circle cx="445.5" cy="103.9" r="1.45" fill="#2b76a0"/><circle cx="466.1" cy="100.8" r="1.45" fill="#2b76a0"/><circle cx="468.8" cy="102.8" r="1.45" fill="#2b76a0"/><circle cx="471.9" cy="103.4" r="1.45" fill="#2b76a0"/><circle cx="472.7" cy="103.9" r="1.45" fill="#2b76a0"/><circle cx="461.3" cy="104.2" r="1.45" fill="#2b76a0"/><circle cx="463.2" cy="105.0" r="1.45" fill="#2b76a0"/><circle cx="479.8" cy="105.5" r="1.45" fill="#2b76a0"/><circle cx="481.4" cy="106.3" r="1.45" fill="#2b76a0"/><circle cx="451.8" cy="107.1" r="1.45" fill="#2b76a0"/><circle cx="460.0" cy="107.6" r="1.45" fill="#2b76a0"/><circle cx="457.4" cy="109.0" r="1.45" fill="#2b76a0"/><circle cx="458.5" cy="110.2" r="1.45" fill="#2b76a0"/><circle cx="459.2" cy="109.5" r="1.45" fill="#2b76a0"/><circle cx="462.4" cy="108.7" r="1.45" fill="#2b76a0"/><circle cx="464.0" cy="109.5" r="1.45" fill="#2b76a0"/><circle cx="467.2" cy="109.5" r="1.45" fill="#2b76a0"/><circle cx="470.3" cy="110.2" r="1.45" fill="#2b76a0"/><circle cx="457.4" cy="112.6" r="1.45" fill="#2b76a0"/><circle cx="457.7" cy="113.7" r="1.45" fill="#2b76a0"/><circle cx="468.8" cy="111.8" r="1.45" fill="#2b76a0"/><circle cx="470.3" cy="112.6" r="1.45" fill="#2b76a0"/><circle cx="479.0" cy="115.0" r="1.45" fill="#2b76a0"/><circle cx="470.3" cy="117.4" r="1.45" fill="#2b76a0"/><circle cx="471.9" cy="117.8" r="1.45" fill="#2b76a0"/><circle cx="466.4" cy="121.0" r="1.45" fill="#2b76a0"/><circle cx="475.9" cy="119.0" r="1.45" fill="#2b76a0"/><circle cx="480.1" cy="118.2" r="1.45" fill="#2b76a0"/><circle cx="486.2" cy="78.3" r="1.45" fill="#2b76a0"/><circle cx="485.4" cy="79.4" r="1.45" fill="#2b76a0"/><circle cx="487.0" cy="78.6" r="1.45" fill="#2b76a0"/><circle cx="495.7" cy="79.8" r="1.45" fill="#2b76a0"/><circle cx="498.0" cy="79.4" r="1.45" fill="#2b76a0"/><circle cx="500.4" cy="79.1" r="1.45" fill="#2b76a0"/><circle cx="504.4" cy="80.5" r="1.45" fill="#2b76a0"/><circle cx="507.5" cy="82.1" r="1.45" fill="#2b76a0"/><circle cx="493.3" cy="82.5" r="1.45" fill="#2b76a0"/><circle cx="491.7" cy="83.3" r="1.45" fill="#2b76a0"/><circle cx="489.3" cy="83.8" r="1.45" fill="#2b76a0"/><circle cx="487.8" cy="84.1" r="1.45" fill="#2b76a0"/><circle cx="486.2" cy="84.9" r="1.45" fill="#2b76a0"/><circle cx="494.1" cy="82.1" r="1.45" fill="#2b76a0"/><circle cx="497.2" cy="84.9" r="1.45" fill="#2b76a0"/><circle cx="498.0" cy="87.3" r="1.45" fill="#2b76a0"/><circle cx="500.4" cy="87.3" r="1.45" fill="#2b76a0"/><circle cx="498.8" cy="89.7" r="1.45" fill="#2b76a0"/><circle cx="501.2" cy="91.7" r="1.45" fill="#2b76a0"/><circle cx="504.4" cy="92.0" r="1.45" fill="#2b76a0"/><circle cx="506.8" cy="91.2" r="1.45" fill="#2b76a0"/><circle cx="509.1" cy="88.1" r="1.45" fill="#2b76a0"/><circle cx="508.3" cy="89.7" r="1.45" fill="#2b76a0"/><circle cx="516.6" cy="77.3" r="1.45" fill="#2b76a0"/><circle cx="515.9" cy="92.8" r="1.45" fill="#2b76a0"/><circle cx="488.5" cy="91.2" r="1.45" fill="#2b76a0"/><circle cx="484.6" cy="95.2" r="1.45" fill="#2b76a0"/><circle cx="490.1" cy="96.0" r="1.45" fill="#2b76a0"/><circle cx="494.9" cy="96.0" r="1.45" fill="#2b76a0"/><circle cx="496.5" cy="96.8" r="1.45" fill="#2b76a0"/><circle cx="497.2" cy="97.6" r="1.45" fill="#2b76a0"/><circle cx="490.9" cy="98.4" r="1.45" fill="#2b76a0"/><circle cx="492.5" cy="100.0" r="1.45" fill="#2b76a0"/><circle cx="498.8" cy="99.2" r="1.45" fill="#2b76a0"/><circle cx="500.4" cy="100.8" r="1.45" fill="#2b76a0"/><circle cx="502.0" cy="102.3" r="1.45" fill="#2b76a0"/><circle cx="506.0" cy="100.8" r="1.45" fill="#2b76a0"/><circle cx="509.1" cy="102.3" r="1.45" fill="#2b76a0"/><circle cx="512.3" cy="103.1" r="1.45" fill="#2b76a0"/><circle cx="517.0" cy="100.0" r="1.45" fill="#2b76a0"/><circle cx="516.2" cy="99.2" r="1.45" fill="#2b76a0"/><circle cx="519.4" cy="96.8" r="1.45" fill="#2b76a0"/><circle cx="521.0" cy="96.0" r="1.45" fill="#2b76a0"/><circle cx="529.2" cy="95.2" r="1.45" fill="#2b76a0"/><circle cx="531.8" cy="91.2" r="1.45" fill="#2b76a0"/><circle cx="535.2" cy="98.4" r="1.45" fill="#2b76a0"/><circle cx="536.8" cy="101.5" r="1.45" fill="#2b76a0"/><circle cx="539.2" cy="96.0" r="1.45" fill="#2b76a0"/><circle cx="534.5" cy="104.7" r="1.45" fill="#2b76a0"/><circle cx="535.2" cy="106.3" r="1.45" fill="#2b76a0"/><circle cx="551.4" cy="99.5" r="1.45" fill="#2b76a0"/><circle cx="555.8" cy="104.7" r="1.45" fill="#2b76a0"/><circle cx="549.2" cy="107.1" r="1.45" fill="#2b76a0"/><circle cx="483.0" cy="104.7" r="1.45" fill="#2b76a0"/><circle cx="485.4" cy="105.2" r="1.45" fill="#2b76a0"/><circle cx="489.3" cy="105.5" r="1.45" fill="#2b76a0"/><circle cx="498.0" cy="104.7" r="1.45" fill="#2b76a0"/><circle cx="501.2" cy="105.5" r="1.45" fill="#2b76a0"/><circle cx="502.8" cy="106.3" r="1.45" fill="#2b76a0"/><circle cx="510.7" cy="107.1" r="1.45" fill="#2b76a0"/><circle cx="511.5" cy="109.5" r="1.45" fill="#2b76a0"/><circle cx="513.1" cy="111.8" r="1.45" fill="#2b76a0"/><circle cx="516.2" cy="105.2" r="1.45" fill="#2b76a0"/><circle cx="505.2" cy="108.7" r="1.45" fill="#2b76a0"/><circle cx="507.5" cy="110.2" r="1.45" fill="#2b76a0"/><circle cx="502.0" cy="110.2" r="1.45" fill="#2b76a0"/><circle cx="500.4" cy="112.6" r="1.45" fill="#2b76a0"/><circle cx="502.8" cy="113.4" r="1.45" fill="#2b76a0"/><circle cx="492.5" cy="110.2" r="1.45" fill="#2b76a0"/><circle cx="494.1" cy="111.0" r="1.45" fill="#2b76a0"/><circle cx="506.0" cy="114.2" r="1.45" fill="#2b76a0"/><circle cx="517.8" cy="116.6" r="1.45" fill="#2b76a0"/><circle cx="521.8" cy="118.2" r="1.45" fill="#2b76a0"/><circle cx="523.4" cy="115.8" r="1.45" fill="#2b76a0"/><circle cx="528.9" cy="115.8" r="1.45" fill="#2b76a0"/><circle cx="528.1" cy="111.0" r="1.45" fill="#2b76a0"/><circle cx="549.5" cy="111.8" r="1.45" fill="#2b76a0"/><circle cx="549.5" cy="118.2" r="1.45" fill="#2b76a0"/><circle cx="548.7" cy="119.4" r="1.45" fill="#2b76a0"/><circle cx="489.3" cy="117.4" r="1.45" fill="#2b76a0"/><circle cx="490.9" cy="118.2" r="1.45" fill="#2b76a0"/><circle cx="494.1" cy="117.4" r="1.45" fill="#2b76a0"/><circle cx="497.2" cy="119.0" r="1.45" fill="#2b76a0"/><circle cx="498.8" cy="121.3" r="1.45" fill="#2b76a0"/><circle cx="544.0" cy="122.6" r="1.45" fill="#2b76a0"/><circle cx="527.3" cy="122.9" r="1.45" fill="#2b76a0"/><circle cx="447.9" cy="127.2" r="1.45" fill="#2b76a0"/><circle cx="465.6" cy="127.5" r="1.45" fill="#2b76a0"/><circle cx="471.4" cy="129.5" r="1.45" fill="#2b76a0"/><circle cx="479.5" cy="133.2" r="1.45" fill="#2b76a0"/><circle cx="482.2" cy="137.9" r="1.45" fill="#2b76a0"/><circle cx="458.0" cy="133.8" r="1.45" fill="#2b76a0"/><circle cx="465.6" cy="135.4" r="1.45" fill="#2b76a0"/><circle cx="443.1" cy="135.9" r="1.45" fill="#2b76a0"/><circle cx="440.2" cy="141.1" r="1.45" fill="#2b76a0"/><circle cx="445.3" cy="141.4" r="1.45" fill="#2b76a0"/><circle cx="441.4" cy="145.8" r="1.45" fill="#2b76a0"/><circle cx="464.8" cy="143.8" r="1.45" fill="#2b76a0"/><circle cx="477.0" cy="144.1" r="1.45" fill="#2b76a0"/><circle cx="458.1" cy="150.6" r="1.45" fill="#2b76a0"/><circle cx="462.1" cy="152.7" r="1.45" fill="#2b76a0"/><circle cx="467.6" cy="149.0" r="1.45" fill="#2b76a0"/><circle cx="469.1" cy="151.2" r="1.45" fill="#2b76a0"/><circle cx="421.6" cy="154.1" r="1.45" fill="#2b76a0"/><circle cx="419.7" cy="156.8" r="1.45" fill="#2b76a0"/><circle cx="423.6" cy="156.8" r="1.45" fill="#2b76a0"/><circle cx="424.9" cy="157.7" r="1.45" fill="#2b76a0"/><circle cx="437.6" cy="154.4" r="1.45" fill="#2b76a0"/><circle cx="440.6" cy="157.6" r="1.45" fill="#2b76a0"/><circle cx="431.1" cy="164.8" r="1.45" fill="#2b76a0"/><circle cx="430.3" cy="166.8" r="1.45" fill="#2b76a0"/><circle cx="458.0" cy="166.1" r="1.45" fill="#2b76a0"/><circle cx="413.3" cy="174.8" r="1.45" fill="#2b76a0"/><circle cx="431.1" cy="175.8" r="1.45" fill="#2b76a0"/><circle cx="407.0" cy="184.2" r="1.45" fill="#2b76a0"/><circle cx="484.9" cy="129.5" r="1.45" fill="#2b76a0"/><circle cx="483.0" cy="137.5" r="1.45" fill="#2b76a0"/><circle cx="490.6" cy="142.7" r="1.45" fill="#2b76a0"/><circle cx="499.3" cy="141.4" r="1.45" fill="#2b76a0"/><circle cx="503.3" cy="139.8" r="1.45" fill="#2b76a0"/><circle cx="502.5" cy="143.9" r="1.45" fill="#2b76a0"/><circle cx="511.5" cy="130.3" r="1.45" fill="#2b76a0"/><circle cx="525.8" cy="124.0" r="1.45" fill="#2b76a0"/><circle cx="535.7" cy="126.1" r="1.45" fill="#2b76a0"/><circle cx="553.9" cy="127.2" r="1.45" fill="#2b76a0"/><circle cx="558.7" cy="128.4" r="1.45" fill="#2b76a0"/><line x1="407.0" y1="125.4" x2="559.0" y2="91.2" stroke="#3a87ad" stroke-width="1.3"/></g><rect x="406.8" y="57.6" width="152.1" height="132.4" fill="none" stroke="#3c3c3c" stroke-width="1.2"/><g clip-path="url(#clipC)"><circle cx="649.4" cy="80.6" r="1.45" fill="#2b76a0"/><circle cx="651.0" cy="82.9" r="1.45" fill="#2b76a0"/><circle cx="667.9" cy="84.9" r="1.45" fill="#2b76a0"/><circle cx="673.9" cy="87.8" r="1.45" fill="#2b76a0"/><circle cx="676.3" cy="87.0" r="1.45" fill="#2b76a0"/><circle cx="677.4" cy="88.9" r="1.45" fill="#2b76a0"/><circle cx="677.1" cy="90.9" r="1.45" fill="#2b76a0"/><circle cx="683.4" cy="82.1" r="1.45" fill="#2b76a0"/><circle cx="684.2" cy="85.7" r="1.45" fill="#2b76a0"/><circle cx="681.8" cy="92.0" r="1.45" fill="#2b76a0"/><circle cx="672.0" cy="94.1" r="1.45" fill="#2b76a0"/><circle cx="673.6" cy="94.9" r="1.45" fill="#2b76a0"/><circle cx="667.3" cy="94.9" r="1.45" fill="#2b76a0"/><circle cx="670.0" cy="97.6" r="1.45" fill="#2b76a0"/><circle cx="672.3" cy="98.4" r="1.45" fill="#2b76a0"/><circle cx="673.9" cy="96.0" r="1.45" fill="#2b76a0"/><circle cx="678.7" cy="97.3" r="1.45" fill="#2b76a0"/><circle cx="681.0" cy="97.6" r="1.45" fill="#2b76a0"/><circle cx="683.4" cy="97.3" r="1.45" fill="#2b76a0"/><circle cx="684.7" cy="100.8" r="1.45" fill="#2b76a0"/><circle cx="672.3" cy="100.4" r="1.45" fill="#2b76a0"/><circle cx="673.1" cy="101.5" r="1.45" fill="#2b76a0"/><circle cx="670.0" cy="102.3" r="1.45" fill="#2b76a0"/><circle cx="668.9" cy="103.9" r="1.45" fill="#2b76a0"/><circle cx="677.9" cy="103.6" r="1.45" fill="#2b76a0"/><circle cx="682.6" cy="103.9" r="1.45" fill="#2b76a0"/><circle cx="645.4" cy="97.9" r="1.45" fill="#2b76a0"/><circle cx="653.8" cy="100.8" r="1.45" fill="#2b76a0"/><circle cx="662.0" cy="102.0" r="1.45" fill="#2b76a0"/><circle cx="643.8" cy="103.6" r="1.45" fill="#2b76a0"/><circle cx="653.8" cy="109.0" r="1.45" fill="#2b76a0"/><circle cx="677.1" cy="107.1" r="1.45" fill="#2b76a0"/><circle cx="682.6" cy="108.3" r="1.45" fill="#2b76a0"/><circle cx="672.3" cy="109.5" r="1.45" fill="#2b76a0"/><circle cx="637.2" cy="110.6" r="1.45" fill="#2b76a0"/><circle cx="641.1" cy="109.9" r="1.45" fill="#2b76a0"/><circle cx="642.2" cy="113.1" r="1.45" fill="#2b76a0"/><circle cx="639.1" cy="114.7" r="1.45" fill="#2b76a0"/><circle cx="646.5" cy="114.7" r="1.45" fill="#2b76a0"/><circle cx="666.0" cy="112.6" r="1.45" fill="#2b76a0"/><circle cx="668.4" cy="111.0" r="1.45" fill="#2b76a0"/><circle cx="670.0" cy="112.6" r="1.45" fill="#2b76a0"/><circle cx="625.6" cy="117.4" r="1.45" fill="#2b76a0"/><circle cx="615.0" cy="115.0" r="1.45" fill="#2b76a0"/><circle cx="673.9" cy="116.6" r="1.45" fill="#2b76a0"/><circle cx="675.5" cy="117.4" r="1.45" fill="#2b76a0"/><circle cx="678.7" cy="117.4" r="1.45" fill="#2b76a0"/><circle cx="681.5" cy="116.6" r="1.45" fill="#2b76a0"/><circle cx="653.6" cy="120.5" r="1.45" fill="#2b76a0"/><circle cx="676.3" cy="120.5" r="1.45" fill="#2b76a0"/><circle cx="668.4" cy="123.7" r="1.45" fill="#2b76a0"/><circle cx="721.0" cy="63.9" r="1.45" fill="#2b76a0"/><circle cx="687.4" cy="70.7" r="1.45" fill="#2b76a0"/><circle cx="690.9" cy="69.1" r="1.45" fill="#2b76a0"/><circle cx="691.7" cy="71.5" r="1.45" fill="#2b76a0"/><circle cx="690.1" cy="73.8" r="1.45" fill="#2b76a0"/><circle cx="692.5" cy="72.6" r="1.45" fill="#2b76a0"/><circle cx="704.7" cy="75.4" r="1.45" fill="#2b76a0"/><circle cx="710.7" cy="76.2" r="1.45" fill="#2b76a0"/><circle cx="688.5" cy="78.6" r="1.45" fill="#2b76a0"/><circle cx="692.5" cy="79.4" r="1.45" fill="#2b76a0"/><circle cx="699.6" cy="80.6" r="1.45" fill="#2b76a0"/><circle cx="703.6" cy="80.2" r="1.45" fill="#2b76a0"/><circle cx="709.1" cy="80.2" r="1.45" fill="#2b76a0"/><circle cx="711.5" cy="81.8" r="1.45" fill="#2b76a0"/><circle cx="719.1" cy="79.1" r="1.45" fill="#2b76a0"/><circle cx="725.4" cy="82.5" r="1.45" fill="#2b76a0"/><circle cx="683.0" cy="81.8" r="1.45" fill="#2b76a0"/><circle cx="683.8" cy="84.9" r="1.45" fill="#2b76a0"/><circle cx="688.5" cy="81.8" r="1.45" fill="#2b76a0"/><circle cx="693.3" cy="83.3" r="1.45" fill="#2b76a0"/><circle cx="694.9" cy="88.9" r="1.45" fill="#2b76a0"/><circle cx="697.2" cy="88.1" r="1.45" fill="#2b76a0"/><circle cx="702.0" cy="87.3" r="1.45" fill="#2b76a0"/><circle cx="706.8" cy="86.8" r="1.45" fill="#2b76a0"/><circle cx="708.3" cy="86.5" r="1.45" fill="#2b76a0"/><circle cx="700.4" cy="92.0" r="1.45" fill="#2b76a0"/><circle cx="698.8" cy="93.6" r="1.45" fill="#2b76a0"/><circle cx="693.3" cy="92.8" r="1.45" fill="#2b76a0"/><circle cx="694.1" cy="96.8" r="1.45" fill="#2b76a0"/><circle cx="692.5" cy="98.4" r="1.45" fill="#2b76a0"/><circle cx="689.3" cy="100.8" r="1.45" fill="#2b76a0"/><circle cx="687.8" cy="101.5" r="1.45" fill="#2b76a0"/><circle cx="695.7" cy="100.8" r="1.45" fill="#2b76a0"/><circle cx="697.2" cy="100.0" r="1.45" fill="#2b76a0"/><circle cx="705.2" cy="97.6" r="1.45" fill="#2b76a0"/><circle cx="704.4" cy="101.1" r="1.45" fill="#2b76a0"/><circle cx="711.5" cy="93.2" r="1.45" fill="#2b76a0"/><circle cx="716.2" cy="92.5" r="1.45" fill="#2b76a0"/><circle cx="721.0" cy="93.6" r="1.45" fill="#2b76a0"/><circle cx="723.4" cy="95.2" r="1.45" fill="#2b76a0"/><circle cx="724.2" cy="96.8" r="1.45" fill="#2b76a0"/><circle cx="714.7" cy="98.8" r="1.45" fill="#2b76a0"/><circle cx="717.0" cy="100.4" r="1.45" fill="#2b76a0"/><circle cx="723.4" cy="100.8" r="1.45" fill="#2b76a0"/><circle cx="725.0" cy="102.0" r="1.45" fill="#2b76a0"/><circle cx="723.9" cy="103.9" r="1.45" fill="#2b76a0"/><circle cx="725.8" cy="103.1" r="1.45" fill="#2b76a0"/><circle cx="725.0" cy="105.5" r="1.45" fill="#2b76a0"/><circle cx="718.6" cy="105.5" r="1.45" fill="#2b76a0"/><circle cx="717.0" cy="103.9" r="1.45" fill="#2b76a0"/><circle cx="730.5" cy="92.0" r="1.45" fill="#2b76a0"/><circle cx="735.2" cy="96.0" r="1.45" fill="#2b76a0"/><circle cx="737.6" cy="100.0" r="1.45" fill="#2b76a0"/><circle cx="732.1" cy="100.8" r="1.45" fill="#2b76a0"/><circle cx="743.2" cy="103.9" r="1.45" fill="#2b76a0"/><circle cx="744.8" cy="102.3" r="1.45" fill="#2b76a0"/><circle cx="686.2" cy="105.5" r="1.45" fill="#2b76a0"/><circle cx="687.0" cy="104.7" r="1.45" fill="#2b76a0"/><circle cx="690.1" cy="109.0" r="1.45" fill="#2b76a0"/><circle cx="693.3" cy="111.8" r="1.45" fill="#2b76a0"/><circle cx="694.1" cy="113.4" r="1.45" fill="#2b76a0"/><circle cx="699.6" cy="111.0" r="1.45" fill="#2b76a0"/><circle cx="702.0" cy="113.7" r="1.45" fill="#2b76a0"/><circle cx="683.0" cy="111.8" r="1.45" fill="#2b76a0"/><circle cx="684.6" cy="115.0" r="1.45" fill="#2b76a0"/><circle cx="713.1" cy="114.2" r="1.45" fill="#2b76a0"/><circle cx="716.2" cy="115.0" r="1.45" fill="#2b76a0"/><circle cx="717.8" cy="117.4" r="1.45" fill="#2b76a0"/><circle cx="720.2" cy="113.4" r="1.45" fill="#2b76a0"/><circle cx="725.8" cy="116.6" r="1.45" fill="#2b76a0"/><circle cx="728.9" cy="115.0" r="1.45" fill="#2b76a0"/><circle cx="730.5" cy="108.7" r="1.45" fill="#2b76a0"/><circle cx="734.5" cy="111.8" r="1.45" fill="#2b76a0"/><circle cx="751.9" cy="114.2" r="1.45" fill="#2b76a0"/><circle cx="755.0" cy="111.8" r="1.45" fill="#2b76a0"/><circle cx="757.7" cy="99.2" r="1.45" fill="#2b76a0"/><circle cx="693.3" cy="119.0" r="1.45" fill="#2b76a0"/><circle cx="686.2" cy="118.2" r="1.45" fill="#2b76a0"/><circle cx="690.1" cy="122.9" r="1.45" fill="#2b76a0"/><circle cx="704.4" cy="122.1" r="1.45" fill="#2b76a0"/><circle cx="702.8" cy="122.9" r="1.45" fill="#2b76a0"/><circle cx="732.1" cy="120.5" r="1.45" fill="#2b76a0"/><circle cx="735.2" cy="121.3" r="1.45" fill="#2b76a0"/><circle cx="738.4" cy="122.1" r="1.45" fill="#2b76a0"/><circle cx="729.7" cy="119.0" r="1.45" fill="#2b76a0"/><circle cx="754.2" cy="122.9" r="1.45" fill="#2b76a0"/><circle cx="609.8" cy="126.8" r="1.45" fill="#2b76a0"/><circle cx="655.7" cy="128.0" r="1.45" fill="#2b76a0"/><circle cx="662.5" cy="130.3" r="1.45" fill="#2b76a0"/><circle cx="666.0" cy="131.1" r="1.45" fill="#2b76a0"/><circle cx="671.2" cy="131.6" r="1.45" fill="#2b76a0"/><circle cx="668.9" cy="124.8" r="1.45" fill="#2b76a0"/><circle cx="671.2" cy="125.9" r="1.45" fill="#2b76a0"/><circle cx="677.9" cy="130.3" r="1.45" fill="#2b76a0"/><circle cx="679.9" cy="131.6" r="1.45" fill="#2b76a0"/><circle cx="681.8" cy="132.7" r="1.45" fill="#2b76a0"/><circle cx="683.4" cy="133.5" r="1.45" fill="#2b76a0"/><circle cx="684.7" cy="139.8" r="1.45" fill="#2b76a0"/><circle cx="675.2" cy="140.6" r="1.45" fill="#2b76a0"/><circle cx="661.7" cy="137.5" r="1.45" fill="#2b76a0"/><circle cx="659.4" cy="142.7" r="1.45" fill="#2b76a0"/><circle cx="661.2" cy="147.8" r="1.45" fill="#2b76a0"/><circle cx="645.1" cy="140.3" r="1.45" fill="#2b76a0"/><circle cx="642.7" cy="143.5" r="1.45" fill="#2b76a0"/><circle cx="647.0" cy="145.8" r="1.45" fill="#2b76a0"/><circle cx="626.1" cy="145.1" r="1.45" fill="#2b76a0"/><circle cx="642.6" cy="152.2" r="1.45" fill="#2b76a0"/><circle cx="648.9" cy="153.8" r="1.45" fill="#2b76a0"/><circle cx="624.8" cy="154.9" r="1.45" fill="#2b76a0"/><circle cx="643.0" cy="160.1" r="1.45" fill="#2b76a0"/><circle cx="638.0" cy="162.5" r="1.45" fill="#2b76a0"/><circle cx="641.1" cy="163.3" r="1.45" fill="#2b76a0"/><circle cx="628.8" cy="168.3" r="1.45" fill="#2b76a0"/><circle cx="631.2" cy="167.5" r="1.45" fill="#2b76a0"/><circle cx="633.9" cy="171.5" r="1.45" fill="#2b76a0"/><circle cx="638.0" cy="172.0" r="1.45" fill="#2b76a0"/><circle cx="654.1" cy="169.9" r="1.45" fill="#2b76a0"/><circle cx="658.9" cy="169.1" r="1.45" fill="#2b76a0"/><circle cx="624.0" cy="173.9" r="1.45" fill="#2b76a0"/><circle cx="613.8" cy="179.1" r="1.45" fill="#2b76a0"/><circle cx="613.8" cy="183.1" r="1.45" fill="#2b76a0"/><circle cx="620.9" cy="181.0" r="1.45" fill="#2b76a0"/><circle cx="630.7" cy="183.7" r="1.45" fill="#2b76a0"/><circle cx="656.5" cy="180.4" r="1.45" fill="#2b76a0"/><circle cx="683.8" cy="133.2" r="1.45" fill="#2b76a0"/><circle cx="685.4" cy="139.8" r="1.45" fill="#2b76a0"/><circle cx="692.8" cy="128.0" r="1.45" fill="#2b76a0"/><circle cx="692.8" cy="137.9" r="1.45" fill="#2b76a0"/><circle cx="698.4" cy="138.6" r="1.45" fill="#2b76a0"/><circle cx="701.2" cy="130.7" r="1.45" fill="#2b76a0"/><circle cx="702.8" cy="128.0" r="1.45" fill="#2b76a0"/><circle cx="705.2" cy="126.4" r="1.45" fill="#2b76a0"/><circle cx="702.8" cy="124.0" r="1.45" fill="#2b76a0"/><circle cx="712.8" cy="130.7" r="1.45" fill="#2b76a0"/><circle cx="719.7" cy="126.1" r="1.45" fill="#2b76a0"/><circle cx="722.3" cy="129.5" r="1.45" fill="#2b76a0"/><circle cx="724.2" cy="138.2" r="1.45" fill="#2b76a0"/><circle cx="728.9" cy="125.9" r="1.45" fill="#2b76a0"/><circle cx="730.0" cy="132.7" r="1.45" fill="#2b76a0"/><circle cx="733.7" cy="132.7" r="1.45" fill="#2b76a0"/><circle cx="735.2" cy="126.4" r="1.45" fill="#2b76a0"/><circle cx="732.9" cy="137.9" r="1.45" fill="#2b76a0"/><circle cx="738.7" cy="135.9" r="1.45" fill="#2b76a0"/><circle cx="748.2" cy="128.8" r="1.45" fill="#2b76a0"/><circle cx="752.4" cy="127.6" r="1.45" fill="#2b76a0"/><circle cx="754.6" cy="124.8" r="1.45" fill="#2b76a0"/><circle cx="756.1" cy="137.9" r="1.45" fill="#2b76a0"/><circle cx="719.4" cy="156.0" r="1.45" fill="#2b76a0"/><line x1="609.0" y1="135.4" x2="758.0" y2="93.5" stroke="#3a87ad" stroke-width="1.3"/></g><rect x="608.9" y="57.7" width="149.5" height="131.8" fill="none" stroke="#3c3c3c" stroke-width="1.2"/><g clip-path="url(#clipE)"><circle cx="439.3" cy="265.6" r="1.45" fill="#c97a16"/><circle cx="441.3" cy="281.2" r="1.45" fill="#c97a16"/><circle cx="443.3" cy="282.2" r="1.45" fill="#c97a16"/><circle cx="454.6" cy="281.7" r="1.45" fill="#c97a16"/><circle cx="469.1" cy="281.4" r="1.45" fill="#c97a16"/><circle cx="472.3" cy="279.3" r="1.45" fill="#c97a16"/><circle cx="424.9" cy="285.2" r="1.45" fill="#c97a16"/><circle cx="432.1" cy="285.7" r="1.45" fill="#c97a16"/><circle cx="435.0" cy="284.4" r="1.45" fill="#c97a16"/><circle cx="450.1" cy="286.0" r="1.45" fill="#c97a16"/><circle cx="452.2" cy="284.9" r="1.45" fill="#c97a16"/><circle cx="448.2" cy="286.5" r="1.45" fill="#c97a16"/><circle cx="461.0" cy="285.2" r="1.45" fill="#c97a16"/><circle cx="463.4" cy="285.7" r="1.45" fill="#c97a16"/><circle cx="465.8" cy="284.1" r="1.45" fill="#c97a16"/><circle cx="467.8" cy="287.3" r="1.45" fill="#c97a16"/><circle cx="478.2" cy="286.2" r="1.45" fill="#c97a16"/><circle cx="441.7" cy="287.0" r="1.45" fill="#c97a16"/><circle cx="432.1" cy="292.1" r="1.45" fill="#c97a16"/><circle cx="437.7" cy="291.3" r="1.45" fill="#c97a16"/><circle cx="440.9" cy="293.7" r="1.45" fill="#c97a16"/><circle cx="445.0" cy="290.2" r="1.45" fill="#c97a16"/><circle cx="447.4" cy="292.9" r="1.45" fill="#c97a16"/><circle cx="449.8" cy="294.5" r="1.45" fill="#c97a16"/><circle cx="455.1" cy="288.6" r="1.45" fill="#c97a16"/><circle cx="459.1" cy="294.1" r="1.45" fill="#c97a16"/><circle cx="463.4" cy="292.9" r="1.45" fill="#c97a16"/><circle cx="467.5" cy="290.8" r="1.45" fill="#c97a16"/><circle cx="471.0" cy="289.7" r="1.45" fill="#c97a16"/><circle cx="472.3" cy="293.7" r="1.45" fill="#c97a16"/><circle cx="480.0" cy="289.7" r="1.45" fill="#c97a16"/><circle cx="478.7" cy="291.3" r="1.45" fill="#c97a16"/><circle cx="421.2" cy="297.8" r="1.45" fill="#c97a16"/><circle cx="415.2" cy="303.4" r="1.45" fill="#c97a16"/><circle cx="427.3" cy="302.6" r="1.45" fill="#c97a16"/><circle cx="428.1" cy="301.0" r="1.45" fill="#c97a16"/><circle cx="436.1" cy="297.8" r="1.45" fill="#c97a16"/><circle cx="436.9" cy="301.0" r="1.45" fill="#c97a16"/><circle cx="444.2" cy="298.6" r="1.45" fill="#c97a16"/><circle cx="445.8" cy="299.8" r="1.45" fill="#c97a16"/><circle cx="445.0" cy="303.4" r="1.45" fill="#c97a16"/><circle cx="453.8" cy="294.5" r="1.45" fill="#c97a16"/><circle cx="454.6" cy="298.6" r="1.45" fill="#c97a16"/><circle cx="456.2" cy="297.8" r="1.45" fill="#c97a16"/><circle cx="459.4" cy="299.4" r="1.45" fill="#c97a16"/><circle cx="461.0" cy="298.6" r="1.45" fill="#c97a16"/><circle cx="463.4" cy="298.2" r="1.45" fill="#c97a16"/><circle cx="465.0" cy="300.2" r="1.45" fill="#c97a16"/><circle cx="469.1" cy="298.6" r="1.45" fill="#c97a16"/><circle cx="470.7" cy="297.0" r="1.45" fill="#c97a16"/><circle cx="477.1" cy="299.4" r="1.45" fill="#c97a16"/><circle cx="481.9" cy="297.8" r="1.45" fill="#c97a16"/><circle cx="483.5" cy="298.6" r="1.45" fill="#c97a16"/><circle cx="413.6" cy="308.2" r="1.45" fill="#c97a16"/><circle cx="419.2" cy="306.6" r="1.45" fill="#c97a16"/><circle cx="420.1" cy="305.8" r="1.45" fill="#c97a16"/><circle cx="426.5" cy="306.6" r="1.45" fill="#c97a16"/><circle cx="427.3" cy="308.2" r="1.45" fill="#c97a16"/><circle cx="430.5" cy="305.8" r="1.45" fill="#c97a16"/><circle cx="434.5" cy="306.6" r="1.45" fill="#c97a16"/><circle cx="436.1" cy="308.2" r="1.45" fill="#c97a16"/><circle cx="439.3" cy="307.9" r="1.45" fill="#c97a16"/><circle cx="440.1" cy="309.8" r="1.45" fill="#c97a16"/><circle cx="445.0" cy="308.2" r="1.45" fill="#c97a16"/><circle cx="450.6" cy="308.5" r="1.45" fill="#c97a16"/><circle cx="453.0" cy="303.4" r="1.45" fill="#c97a16"/><circle cx="456.2" cy="304.2" r="1.45" fill="#c97a16"/><circle cx="457.8" cy="301.5" r="1.45" fill="#c97a16"/><circle cx="461.0" cy="303.4" r="1.45" fill="#c97a16"/><circle cx="463.4" cy="306.6" r="1.45" fill="#c97a16"/><circle cx="463.4" cy="308.2" r="1.45" fill="#c97a16"/><circle cx="465.0" cy="309.0" r="1.45" fill="#c97a16"/><circle cx="459.4" cy="308.2" r="1.45" fill="#c97a16"/><circle cx="457.8" cy="309.8" r="1.45" fill="#c97a16"/><circle cx="467.5" cy="305.8" r="1.45" fill="#c97a16"/><circle cx="473.1" cy="302.6" r="1.45" fill="#c97a16"/><circle cx="475.5" cy="309.8" r="1.45" fill="#c97a16"/><circle cx="478.7" cy="308.2" r="1.45" fill="#c97a16"/><circle cx="483.2" cy="309.8" r="1.45" fill="#c97a16"/><circle cx="417.6" cy="312.2" r="1.45" fill="#c97a16"/><circle cx="422.5" cy="313.0" r="1.45" fill="#c97a16"/><circle cx="426.5" cy="313.8" r="1.45" fill="#c97a16"/><circle cx="428.9" cy="309.8" r="1.45" fill="#c97a16"/><circle cx="433.7" cy="313.0" r="1.45" fill="#c97a16"/><circle cx="440.1" cy="313.0" r="1.45" fill="#c97a16"/><circle cx="443.3" cy="312.2" r="1.45" fill="#c97a16"/><circle cx="446.6" cy="311.7" r="1.45" fill="#c97a16"/><circle cx="448.2" cy="313.0" r="1.45" fill="#c97a16"/><circle cx="451.4" cy="312.2" r="1.45" fill="#c97a16"/><circle cx="455.4" cy="311.4" r="1.45" fill="#c97a16"/><circle cx="456.2" cy="314.6" r="1.45" fill="#c97a16"/><circle cx="460.2" cy="313.8" r="1.45" fill="#c97a16"/><circle cx="461.8" cy="315.4" r="1.45" fill="#c97a16"/><circle cx="465.8" cy="312.2" r="1.45" fill="#c97a16"/><circle cx="469.1" cy="313.0" r="1.45" fill="#c97a16"/><circle cx="470.7" cy="314.6" r="1.45" fill="#c97a16"/><circle cx="473.9" cy="312.2" r="1.45" fill="#c97a16"/><circle cx="419.2" cy="317.8" r="1.45" fill="#c97a16"/><circle cx="424.1" cy="320.3" r="1.45" fill="#c97a16"/><circle cx="428.1" cy="317.8" r="1.45" fill="#c97a16"/><circle cx="433.7" cy="320.3" r="1.45" fill="#c97a16"/><circle cx="436.1" cy="319.5" r="1.45" fill="#c97a16"/><circle cx="437.7" cy="321.9" r="1.45" fill="#c97a16"/><circle cx="444.2" cy="317.0" r="1.45" fill="#c97a16"/><circle cx="447.4" cy="318.6" r="1.45" fill="#c97a16"/><circle cx="451.4" cy="320.3" r="1.45" fill="#c97a16"/><circle cx="454.6" cy="321.9" r="1.45" fill="#c97a16"/><circle cx="456.2" cy="319.5" r="1.45" fill="#c97a16"/><circle cx="459.4" cy="321.1" r="1.45" fill="#c97a16"/><circle cx="462.6" cy="317.8" r="1.45" fill="#c97a16"/><circle cx="464.2" cy="322.7" r="1.45" fill="#c97a16"/><circle cx="469.1" cy="319.5" r="1.45" fill="#c97a16"/><circle cx="475.5" cy="317.8" r="1.45" fill="#c97a16"/><circle cx="421.7" cy="325.1" r="1.45" fill="#c97a16"/><circle cx="436.9" cy="325.9" r="1.45" fill="#c97a16"/><circle cx="445.8" cy="325.1" r="1.45" fill="#c97a16"/><circle cx="450.6" cy="323.5" r="1.45" fill="#c97a16"/><circle cx="457.8" cy="325.1" r="1.45" fill="#c97a16"/><circle cx="463.4" cy="324.3" r="1.45" fill="#c97a16"/><circle cx="408.0" cy="308.2" r="1.45" fill="#c97a16"/><circle cx="514.8" cy="275.6" r="1.45" fill="#c97a16"/><circle cx="485.4" cy="280.6" r="1.45" fill="#c97a16"/><circle cx="485.4" cy="284.6" r="1.45" fill="#c97a16"/><circle cx="490.7" cy="282.8" r="1.45" fill="#c97a16"/><circle cx="499.9" cy="280.1" r="1.45" fill="#c97a16"/><circle cx="501.5" cy="280.9" r="1.45" fill="#c97a16"/><circle cx="503.6" cy="283.8" r="1.45" fill="#c97a16"/><circle cx="506.8" cy="282.5" r="1.45" fill="#c97a16"/><circle cx="503.1" cy="287.8" r="1.45" fill="#c97a16"/><circle cx="505.5" cy="288.6" r="1.45" fill="#c97a16"/><circle cx="507.4" cy="291.0" r="1.45" fill="#c97a16"/><circle cx="511.6" cy="295.0" r="1.45" fill="#c97a16"/><circle cx="531.2" cy="284.4" r="1.45" fill="#c97a16"/><circle cx="538.0" cy="279.8" r="1.45" fill="#c97a16"/><circle cx="554.8" cy="286.0" r="1.45" fill="#c97a16"/><circle cx="491.8" cy="295.3" r="1.45" fill="#c97a16"/><circle cx="495.9" cy="297.8" r="1.45" fill="#c97a16"/><circle cx="498.3" cy="296.6" r="1.45" fill="#c97a16"/><circle cx="495.5" cy="300.5" r="1.45" fill="#c97a16"/><circle cx="483.8" cy="298.2" r="1.45" fill="#c97a16"/><circle cx="489.4" cy="303.7" r="1.45" fill="#c97a16"/><circle cx="490.7" cy="305.0" r="1.45" fill="#c97a16"/><circle cx="500.7" cy="303.4" r="1.45" fill="#c97a16"/><circle cx="509.0" cy="303.1" r="1.45" fill="#c97a16"/><circle cx="521.6" cy="297.3" r="1.45" fill="#c97a16"/><circle cx="528.0" cy="302.6" r="1.45" fill="#c97a16"/><circle cx="535.2" cy="302.6" r="1.45" fill="#c97a16"/><circle cx="540.5" cy="295.3" r="1.45" fill="#c97a16"/><circle cx="483.0" cy="309.5" r="1.45" fill="#c97a16"/><circle cx="495.1" cy="311.7" r="1.45" fill="#c97a16"/><circle cx="515.9" cy="311.1" r="1.45" fill="#c97a16"/><circle cx="555.6" cy="306.6" r="1.45" fill="#c97a16"/><circle cx="558.5" cy="315.4" r="1.45" fill="#c97a16"/><circle cx="498.7" cy="321.1" r="1.45" fill="#c97a16"/><circle cx="515.1" cy="319.8" r="1.45" fill="#c97a16"/><circle cx="421.0" cy="326.0" r="1.45" fill="#c97a16"/><circle cx="437.4" cy="326.0" r="1.45" fill="#c97a16"/><circle cx="444.2" cy="326.8" r="1.45" fill="#c97a16"/><circle cx="440.6" cy="329.3" r="1.45" fill="#c97a16"/><circle cx="439.8" cy="331.7" r="1.45" fill="#c97a16"/><circle cx="438.2" cy="332.5" r="1.45" fill="#c97a16"/><circle cx="444.2" cy="330.4" r="1.45" fill="#c97a16"/><circle cx="450.1" cy="330.1" r="1.45" fill="#c97a16"/><circle cx="451.7" cy="333.3" r="1.45" fill="#c97a16"/><circle cx="457.7" cy="326.0" r="1.45" fill="#c97a16"/><circle cx="468.7" cy="331.2" r="1.45" fill="#c97a16"/><circle cx="433.3" cy="337.1" r="1.45" fill="#c97a16"/><circle cx="441.8" cy="338.7" r="1.45" fill="#c97a16"/><circle cx="445.5" cy="338.2" r="1.45" fill="#c97a16"/><circle cx="434.1" cy="343.1" r="1.45" fill="#c97a16"/><circle cx="448.4" cy="344.3" r="1.45" fill="#c97a16"/><circle cx="449.6" cy="344.8" r="1.45" fill="#c97a16"/><circle cx="432.1" cy="347.2" r="1.45" fill="#c97a16"/><circle cx="448.0" cy="349.2" r="1.45" fill="#c97a16"/><circle cx="453.7" cy="347.2" r="1.45" fill="#c97a16"/><circle cx="455.0" cy="345.9" r="1.45" fill="#c97a16"/><circle cx="463.5" cy="347.2" r="1.45" fill="#c97a16"/><circle cx="470.5" cy="340.7" r="1.45" fill="#c97a16"/><circle cx="433.3" cy="352.4" r="1.45" fill="#c97a16"/><circle cx="452.0" cy="354.1" r="1.45" fill="#c97a16"/><circle cx="415.0" cy="355.8" r="1.45" fill="#c97a16"/><circle cx="434.9" cy="360.2" r="1.45" fill="#c97a16"/><circle cx="443.6" cy="360.2" r="1.45" fill="#c97a16"/><circle cx="444.2" cy="361.1" r="1.45" fill="#c97a16"/><circle cx="448.0" cy="357.8" r="1.45" fill="#c97a16"/><circle cx="457.4" cy="357.8" r="1.45" fill="#c97a16"/><circle cx="482.2" cy="361.1" r="1.45" fill="#c97a16"/><circle cx="417.1" cy="369.7" r="1.45" fill="#c97a16"/><circle cx="440.1" cy="368.4" r="1.45" fill="#c97a16"/><circle cx="442.7" cy="370.4" r="1.45" fill="#c97a16"/><circle cx="438.7" cy="378.7" r="1.45" fill="#c97a16"/><circle cx="442.2" cy="379.5" r="1.45" fill="#c97a16"/><circle cx="439.8" cy="388.3" r="1.45" fill="#c97a16"/><circle cx="503.4" cy="336.3" r="1.45" fill="#c97a16"/><circle cx="511.1" cy="354.7" r="1.45" fill="#c97a16"/><circle cx="550.4" cy="344.6" r="1.45" fill="#c97a16"/><line x1="408.0" y1="322.2" x2="559.0" y2="289.4" stroke="#d48a2a" stroke-width="1.3"/></g><rect x="408.0" y="259.6" width="151.1" height="134.3" fill="none" stroke="#3c3c3c" stroke-width="1.2"/><g clip-path="url(#clipF)"><circle cx="670.6" cy="265.2" r="1.45" fill="#c97a16"/><circle cx="639.9" cy="274.0" r="1.45" fill="#c97a16"/><circle cx="626.2" cy="280.7" r="1.45" fill="#c97a16"/><circle cx="638.0" cy="282.6" r="1.45" fill="#c97a16"/><circle cx="640.4" cy="284.8" r="1.45" fill="#c97a16"/><circle cx="660.0" cy="280.7" r="1.45" fill="#c97a16"/><circle cx="662.5" cy="281.5" r="1.45" fill="#c97a16"/><circle cx="665.7" cy="281.8" r="1.45" fill="#c97a16"/><circle cx="668.2" cy="280.7" r="1.45" fill="#c97a16"/><circle cx="653.5" cy="283.8" r="1.45" fill="#c97a16"/><circle cx="664.1" cy="285.1" r="1.45" fill="#c97a16"/><circle cx="666.5" cy="284.3" r="1.45" fill="#c97a16"/><circle cx="662.5" cy="287.5" r="1.45" fill="#c97a16"/><circle cx="663.3" cy="289.2" r="1.45" fill="#c97a16"/><circle cx="653.5" cy="288.7" r="1.45" fill="#c97a16"/><circle cx="657.2" cy="290.0" r="1.45" fill="#c97a16"/><circle cx="636.4" cy="289.2" r="1.45" fill="#c97a16"/><circle cx="682.8" cy="275.3" r="1.45" fill="#c97a16"/><circle cx="682.8" cy="285.9" r="1.45" fill="#c97a16"/><circle cx="642.1" cy="296.2" r="1.45" fill="#c97a16"/><circle cx="644.2" cy="296.2" r="1.45" fill="#c97a16"/><circle cx="653.2" cy="294.6" r="1.45" fill="#c97a16"/><circle cx="656.7" cy="295.2" r="1.45" fill="#c97a16"/><circle cx="665.7" cy="296.2" r="1.45" fill="#c97a16"/><circle cx="668.2" cy="295.2" r="1.45" fill="#c97a16"/><circle cx="669.8" cy="298.1" r="1.45" fill="#c97a16"/><circle cx="674.7" cy="296.2" r="1.45" fill="#c97a16"/><circle cx="678.8" cy="297.3" r="1.45" fill="#c97a16"/><circle cx="681.2" cy="299.8" r="1.45" fill="#c97a16"/><circle cx="623.6" cy="299.4" r="1.45" fill="#c97a16"/><circle cx="647.0" cy="299.8" r="1.45" fill="#c97a16"/><circle cx="654.3" cy="299.0" r="1.45" fill="#c97a16"/><circle cx="659.2" cy="301.4" r="1.45" fill="#c97a16"/><circle cx="661.6" cy="302.2" r="1.45" fill="#c97a16"/><circle cx="663.3" cy="301.1" r="1.45" fill="#c97a16"/><circle cx="665.7" cy="303.0" r="1.45" fill="#c97a16"/><circle cx="671.4" cy="303.8" r="1.45" fill="#c97a16"/><circle cx="673.9" cy="303.8" r="1.45" fill="#c97a16"/><circle cx="677.1" cy="301.1" r="1.45" fill="#c97a16"/><circle cx="678.4" cy="303.8" r="1.45" fill="#c97a16"/><circle cx="631.1" cy="305.2" r="1.45" fill="#c97a16"/><circle cx="639.6" cy="303.8" r="1.45" fill="#c97a16"/><circle cx="642.9" cy="304.7" r="1.45" fill="#c97a16"/><circle cx="646.1" cy="302.7" r="1.45" fill="#c97a16"/><circle cx="649.4" cy="303.4" r="1.45" fill="#c97a16"/><circle cx="652.7" cy="302.2" r="1.45" fill="#c97a16"/><circle cx="655.1" cy="303.0" r="1.45" fill="#c97a16"/><circle cx="655.9" cy="306.3" r="1.45" fill="#c97a16"/><circle cx="658.4" cy="307.6" r="1.45" fill="#c97a16"/><circle cx="660.8" cy="304.7" r="1.45" fill="#c97a16"/><circle cx="663.3" cy="305.5" r="1.45" fill="#c97a16"/><circle cx="666.5" cy="307.9" r="1.45" fill="#c97a16"/><circle cx="614.3" cy="310.0" r="1.45" fill="#c97a16"/><circle cx="630.6" cy="310.9" r="1.45" fill="#c97a16"/><circle cx="633.9" cy="309.2" r="1.45" fill="#c97a16"/><circle cx="636.4" cy="312.8" r="1.45" fill="#c97a16"/><circle cx="638.0" cy="313.6" r="1.45" fill="#c97a16"/><circle cx="640.4" cy="315.3" r="1.45" fill="#c97a16"/><circle cx="642.9" cy="312.0" r="1.45" fill="#c97a16"/><circle cx="644.5" cy="313.6" r="1.45" fill="#c97a16"/><circle cx="650.2" cy="309.6" r="1.45" fill="#c97a16"/><circle cx="654.3" cy="312.8" r="1.45" fill="#c97a16"/><circle cx="658.4" cy="311.2" r="1.45" fill="#c97a16"/><circle cx="660.0" cy="314.5" r="1.45" fill="#c97a16"/><circle cx="664.1" cy="315.3" r="1.45" fill="#c97a16"/><circle cx="669.0" cy="312.0" r="1.45" fill="#c97a16"/><circle cx="635.5" cy="315.3" r="1.45" fill="#c97a16"/><circle cx="646.1" cy="316.9" r="1.45" fill="#c97a16"/><circle cx="649.1" cy="316.1" r="1.45" fill="#c97a16"/><circle cx="651.0" cy="316.9" r="1.45" fill="#c97a16"/><circle cx="657.6" cy="317.7" r="1.45" fill="#c97a16"/><circle cx="660.8" cy="316.9" r="1.45" fill="#c97a16"/><circle cx="663.3" cy="320.2" r="1.45" fill="#c97a16"/><circle cx="667.3" cy="317.7" r="1.45" fill="#c97a16"/><circle cx="671.4" cy="316.1" r="1.45" fill="#c97a16"/><circle cx="626.6" cy="316.9" r="1.45" fill="#c97a16"/><circle cx="624.9" cy="321.8" r="1.45" fill="#c97a16"/><circle cx="617.6" cy="319.3" r="1.45" fill="#c97a16"/><circle cx="616.8" cy="320.6" r="1.45" fill="#c97a16"/><circle cx="642.1" cy="319.3" r="1.45" fill="#c97a16"/><circle cx="645.3" cy="320.2" r="1.45" fill="#c97a16"/><circle cx="656.7" cy="321.0" r="1.45" fill="#c97a16"/><circle cx="659.2" cy="322.6" r="1.45" fill="#c97a16"/><circle cx="672.2" cy="321.8" r="1.45" fill="#c97a16"/><circle cx="612.7" cy="325.1" r="1.45" fill="#c97a16"/><circle cx="620.0" cy="325.5" r="1.45" fill="#c97a16"/><circle cx="631.5" cy="325.1" r="1.45" fill="#c97a16"/><circle cx="638.0" cy="324.2" r="1.45" fill="#c97a16"/><circle cx="642.1" cy="325.1" r="1.45" fill="#c97a16"/><circle cx="659.2" cy="325.9" r="1.45" fill="#c97a16"/><circle cx="607.0" cy="321.0" r="1.45" fill="#c97a16"/><circle cx="698.3" cy="272.0" r="1.45" fill="#c97a16"/><circle cx="699.6" cy="270.7" r="1.45" fill="#c97a16"/><circle cx="683.6" cy="275.3" r="1.45" fill="#c97a16"/><circle cx="683.6" cy="285.9" r="1.45" fill="#c97a16"/><circle cx="703.7" cy="277.8" r="1.45" fill="#c97a16"/><circle cx="701.6" cy="283.8" r="1.45" fill="#c97a16"/><circle cx="713.0" cy="283.8" r="1.45" fill="#c97a16"/><circle cx="725.7" cy="282.2" r="1.45" fill="#c97a16"/><circle cx="735.8" cy="282.6" r="1.45" fill="#c97a16"/><circle cx="752.1" cy="277.3" r="1.45" fill="#c97a16"/><circle cx="688.8" cy="290.0" r="1.45" fill="#c97a16"/><circle cx="689.8" cy="292.9" r="1.45" fill="#c97a16"/><circle cx="704.8" cy="291.3" r="1.45" fill="#c97a16"/><circle cx="709.4" cy="288.7" r="1.45" fill="#c97a16"/><circle cx="693.7" cy="297.3" r="1.45" fill="#c97a16"/><circle cx="682.0" cy="299.8" r="1.45" fill="#c97a16"/><circle cx="694.2" cy="303.4" r="1.45" fill="#c97a16"/><circle cx="696.7" cy="306.3" r="1.45" fill="#c97a16"/><circle cx="698.3" cy="306.3" r="1.45" fill="#c97a16"/><circle cx="701.6" cy="302.7" r="1.45" fill="#c97a16"/><circle cx="705.6" cy="302.7" r="1.45" fill="#c97a16"/><circle cx="707.3" cy="303.4" r="1.45" fill="#c97a16"/><circle cx="719.5" cy="294.6" r="1.45" fill="#c97a16"/><circle cx="729.3" cy="295.7" r="1.45" fill="#c97a16"/><circle cx="733.9" cy="290.0" r="1.45" fill="#c97a16"/><circle cx="738.3" cy="296.2" r="1.45" fill="#c97a16"/><circle cx="686.1" cy="309.6" r="1.45" fill="#c97a16"/><circle cx="688.5" cy="315.3" r="1.45" fill="#c97a16"/><circle cx="687.7" cy="316.9" r="1.45" fill="#c97a16"/><circle cx="714.3" cy="312.0" r="1.45" fill="#c97a16"/><circle cx="748.1" cy="308.3" r="1.45" fill="#c97a16"/><circle cx="753.3" cy="300.6" r="1.45" fill="#c97a16"/><circle cx="757.0" cy="318.5" r="1.45" fill="#c97a16"/><circle cx="619.6" cy="326.8" r="1.45" fill="#c97a16"/><circle cx="630.5" cy="330.2" r="1.45" fill="#c97a16"/><circle cx="632.2" cy="329.0" r="1.45" fill="#c97a16"/><circle cx="634.7" cy="328.5" r="1.45" fill="#c97a16"/><circle cx="636.4" cy="333.5" r="1.45" fill="#c97a16"/><circle cx="638.0" cy="331.9" r="1.45" fill="#c97a16"/><circle cx="643.9" cy="332.7" r="1.45" fill="#c97a16"/><circle cx="647.3" cy="330.2" r="1.45" fill="#c97a16"/><circle cx="648.9" cy="331.0" r="1.45" fill="#c97a16"/><circle cx="648.1" cy="329.4" r="1.45" fill="#c97a16"/><circle cx="651.5" cy="333.5" r="1.45" fill="#c97a16"/><circle cx="654.0" cy="331.9" r="1.45" fill="#c97a16"/><circle cx="656.5" cy="335.7" r="1.45" fill="#c97a16"/><circle cx="659.0" cy="326.8" r="1.45" fill="#c97a16"/><circle cx="662.4" cy="334.1" r="1.45" fill="#c97a16"/><circle cx="664.0" cy="331.9" r="1.45" fill="#c97a16"/><circle cx="667.4" cy="328.0" r="1.45" fill="#c97a16"/><circle cx="671.6" cy="336.4" r="1.45" fill="#c97a16"/><circle cx="668.2" cy="340.3" r="1.45" fill="#c97a16"/><circle cx="669.1" cy="341.9" r="1.45" fill="#c97a16"/><circle cx="617.9" cy="334.1" r="1.45" fill="#c97a16"/><circle cx="622.9" cy="335.2" r="1.45" fill="#c97a16"/><circle cx="643.1" cy="336.9" r="1.45" fill="#c97a16"/><circle cx="625.1" cy="343.6" r="1.45" fill="#c97a16"/><circle cx="627.1" cy="342.3" r="1.45" fill="#c97a16"/><circle cx="639.2" cy="342.3" r="1.45" fill="#c97a16"/><circle cx="646.4" cy="341.4" r="1.45" fill="#c97a16"/><circle cx="643.9" cy="344.8" r="1.45" fill="#c97a16"/><circle cx="647.3" cy="344.8" r="1.45" fill="#c97a16"/><circle cx="653.6" cy="347.0" r="1.45" fill="#c97a16"/><circle cx="632.2" cy="347.5" r="1.45" fill="#c97a16"/><circle cx="634.2" cy="349.5" r="1.45" fill="#c97a16"/><circle cx="635.9" cy="350.3" r="1.45" fill="#c97a16"/><circle cx="647.6" cy="352.3" r="1.45" fill="#c97a16"/><circle cx="633.0" cy="356.7" r="1.45" fill="#c97a16"/><circle cx="632.2" cy="359.6" r="1.45" fill="#c97a16"/><circle cx="635.5" cy="360.7" r="1.45" fill="#c97a16"/><circle cx="648.6" cy="358.4" r="1.45" fill="#c97a16"/><circle cx="636.9" cy="364.9" r="1.45" fill="#c97a16"/><circle cx="642.2" cy="367.6" r="1.45" fill="#c97a16"/><circle cx="638.5" cy="368.3" r="1.45" fill="#c97a16"/><circle cx="614.0" cy="374.2" r="1.45" fill="#c97a16"/><circle cx="638.0" cy="373.8" r="1.45" fill="#c97a16"/><circle cx="642.7" cy="373.0" r="1.45" fill="#c97a16"/><circle cx="652.0" cy="375.0" r="1.45" fill="#c97a16"/><circle cx="656.0" cy="376.7" r="1.45" fill="#c97a16"/><circle cx="639.2" cy="377.2" r="1.45" fill="#c97a16"/><circle cx="680.3" cy="379.0" r="1.45" fill="#c97a16"/><circle cx="616.2" cy="385.9" r="1.45" fill="#c97a16"/><circle cx="630.8" cy="386.7" r="1.45" fill="#c97a16"/><circle cx="641.4" cy="384.7" r="1.45" fill="#c97a16"/><circle cx="641.7" cy="388.9" r="1.45" fill="#c97a16"/><circle cx="646.8" cy="389.2" r="1.45" fill="#c97a16"/><circle cx="713.0" cy="329.4" r="1.45" fill="#c97a16"/><circle cx="696.8" cy="337.4" r="1.45" fill="#c97a16"/><circle cx="709.2" cy="336.1" r="1.45" fill="#c97a16"/><circle cx="701.8" cy="342.8" r="1.45" fill="#c97a16"/><line x1="607.2" y1="336.5" x2="757.4" y2="282.0" stroke="#d48a2a" stroke-width="1.3"/></g><rect x="607.2" y="259.4" width="150.2" height="136.0" fill="none" stroke="#3c3c3c" stroke-width="1.2"/><g stroke="#505050" stroke-width="1.90" stroke-linecap="butt"><line x1="749.20" y1="62.80" x2="749.20" y2="71.00"/><line x1="745.65" y1="64.85" x2="752.75" y2="68.95"/><line x1="752.75" y1="64.85" x2="745.65" y2="68.95"/></g><g stroke="#505050" stroke-width="1.90" stroke-linecap="butt"><line x1="551.00" y1="263.40" x2="551.00" y2="271.60"/><line x1="547.45" y1="265.45" x2="554.55" y2="269.55"/><line x1="554.55" y1="265.45" x2="547.45" y2="269.55"/></g><g stroke="#505050" stroke-width="1.90" stroke-linecap="butt"><line x1="751.00" y1="262.60" x2="751.00" y2="270.80"/><line x1="747.45" y1="264.65" x2="754.55" y2="268.75"/><line x1="754.55" y1="264.65" x2="747.45" y2="268.75"/></g></svg></body></html>
